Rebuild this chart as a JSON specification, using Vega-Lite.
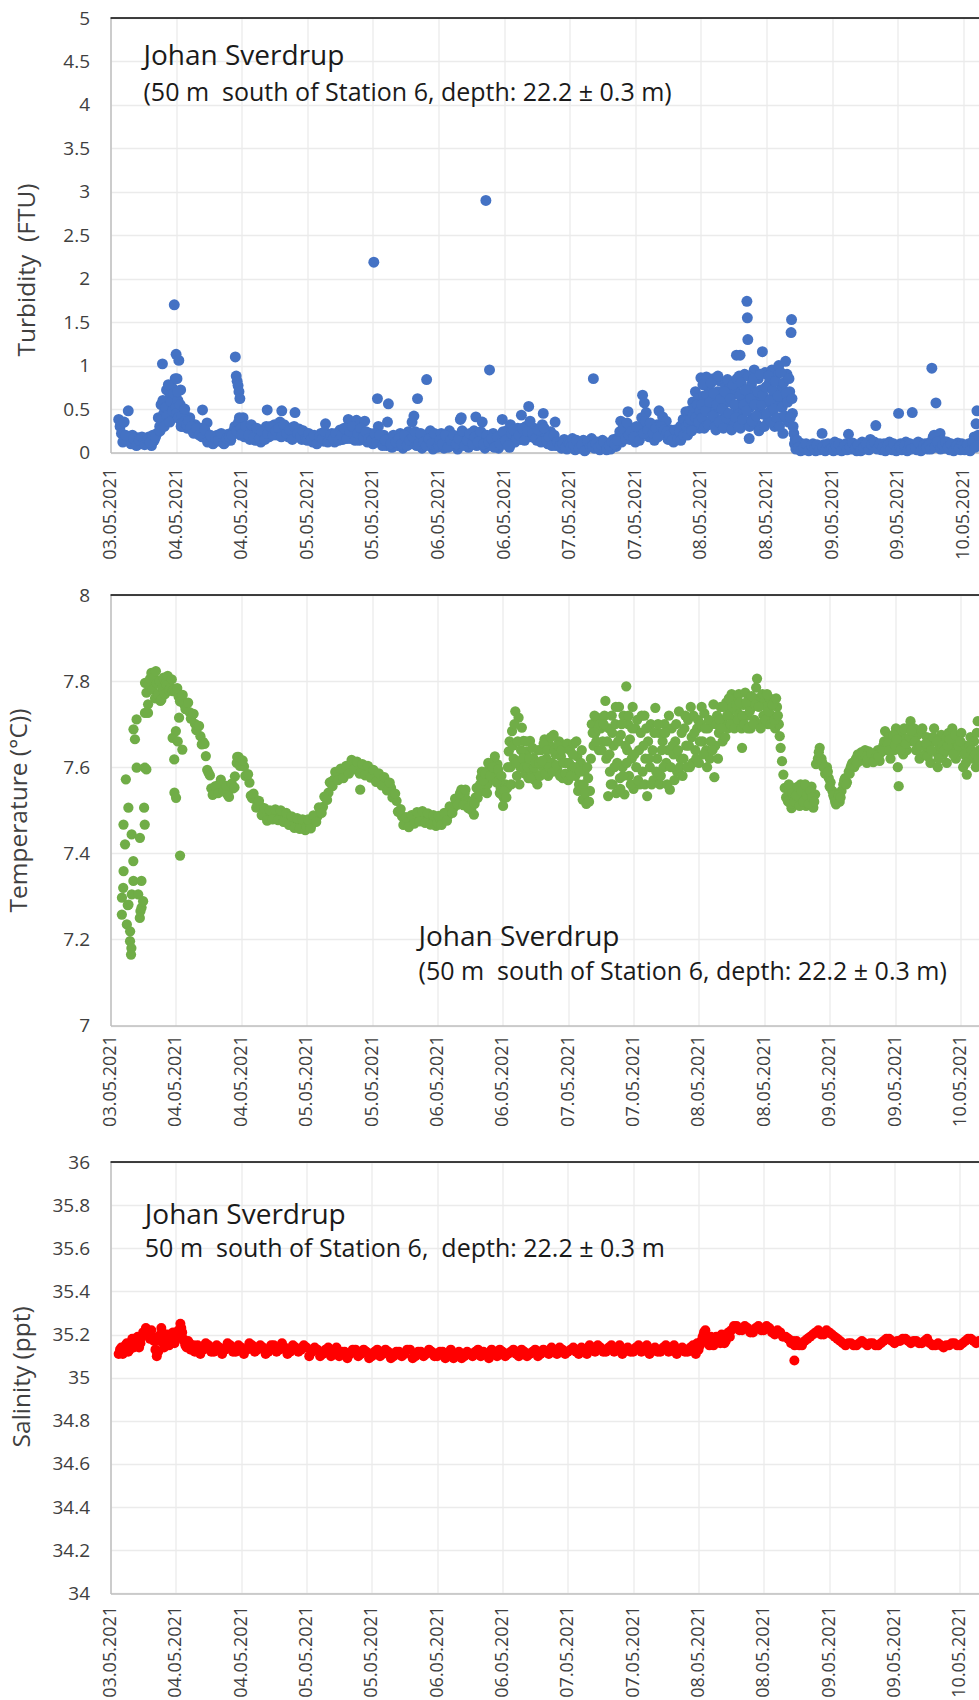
{
"$schema":"https://vega.github.io/schema/vega-lite/v6.json",
"background":"white",
"padding":{"left":6.5,"top":9,"right":0,"bottom":0},
"columns":1,
"align":"none",
"spacing":26,
"config":{
"font":"Open Sans",
"view":{"stroke":null},
"axis":{"labelFont":"Open Sans","labelColor":"#404040","labelFontSize":19,"titleFont":"Open Sans","titleColor":"#404040","titleFontSize":24.5,"titleFontWeight":"normal","domainColor":"#bfbfbf","domainWidth":1.5,"ticks":false,"tickSize":0,"gridColor":"#ebebeb","gridWidth":1.3},
"axisX":{"labelAngle":270,"labelFontSize":18,"labelOverlap":false,"labelFlush":false},
"axisY":{"labelPadding":21}
},
"concat":[
{"width":869,"height":434.5,
"layer":[
{"data":{"name":"turb"},"mark":{"type":"circle","size":120,"opacity":1,"color":"#4472C4"},
"encoding":{
"x":{"field":"t","type":"temporal","scale":{"domain":["2021-05-03T12:00","2021-05-10T02:58"],"nice":false},"axis":{"title":null,"format":"%d.%m.%Y","tickCount":14,"labelPadding":15}},
"y":{"field":"v","type":"quantitative","scale":{"domain":[0,5],"nice":false,"zero":false},"axis":{"title":"Turbidity\u00a0 (FTU)","values":[0,0.5,1,1.5,2,2.5,3,3.5,4,4.5,5],"format":"~g","titleX":-71.5,"titleY":251.5,"titleAngle":270,"titleAlign":"center","titleBaseline":"bottom"}}}},
{"data":{"values":[{"k":1}]},"mark":{"type":"rule","color":"#000000","strokeWidth":1.5},"encoding":{"y":{"datum":5}}},
{"data":{"values":[{"k":1}]},"mark":{"type":"text","align":"left","baseline":"alphabetic","fontSize":28,"color":"#1a1a1a"},"encoding":{"x":{"datum":{"year":2021,"month":5,"date":3,"hours":18,"minutes":2},"type":"temporal"},"y":{"datum":4.457},"text":{"value":"Johan Sverdrup"}}},
{"data":{"values":[{"k":1}]},"mark":{"type":"text","align":"left","baseline":"alphabetic","fontSize":25,"color":"#1a1a1a"},"encoding":{"x":{"datum":{"year":2021,"month":5,"date":3,"hours":18,"minutes":2},"type":"temporal"},"y":{"datum":4.044},"text":{"value":"(50 m\u00a0 south of Station 6, depth: 22.2 ± 0.3 m)"}}}
]},
{"width":869,"height":430.6,
"layer":[
{"data":{"name":"temp"},"mark":{"type":"circle","size":105,"opacity":1,"color":"#70AD47"},
"encoding":{
"x":{"field":"t","type":"temporal","scale":{"domain":["2021-05-03T12:00","2021-05-10T03:30"],"nice":false},"axis":{"title":null,"format":"%d.%m.%Y","tickCount":14,"labelPadding":9}},
"y":{"field":"v","type":"quantitative","scale":{"domain":[7,8],"nice":false,"zero":false},"axis":{"title":"Temperature (°C))","values":[7,7.2,7.4,7.6,7.8,8],"format":"~g","titleX":-79,"titleY":215,"titleAngle":270,"titleAlign":"center","titleBaseline":"bottom"}}}},
{"data":{"values":[{"k":1}]},"mark":{"type":"rule","color":"#000000","strokeWidth":1.5},"encoding":{"y":{"datum":8}}},
{"data":{"values":[{"k":1}]},"mark":{"type":"text","align":"left","baseline":"alphabetic","fontSize":28,"color":"#1a1a1a"},"encoding":{"x":{"datum":{"year":2021,"month":5,"date":5,"hours":20,"minutes":32},"type":"temporal"},"y":{"datum":7.185},"text":{"value":"Johan Sverdrup"}}},
{"data":{"values":[{"k":1}]},"mark":{"type":"text","align":"left","baseline":"alphabetic","fontSize":25,"color":"#1a1a1a"},"encoding":{"x":{"datum":{"year":2021,"month":5,"date":5,"hours":20,"minutes":32},"type":"temporal"},"y":{"datum":7.106},"text":{"value":"(50 m\u00a0 south of Station 6, depth: 22.2 ± 0.3 m)"}}}
]},
{"width":869,"height":431.4,
"layer":[
{"data":{"name":"sal"},"mark":{"type":"circle","size":100,"opacity":1,"color":"#FF0000"},
"encoding":{
"x":{"field":"t","type":"temporal","scale":{"domain":["2021-05-03T12:00","2021-05-10T03:36"],"nice":false},"axis":{"title":null,"format":"%d.%m.%Y","tickCount":14,"labelPadding":12}},
"y":{"field":"v","type":"quantitative","scale":{"domain":[34,36],"nice":false,"zero":false},"axis":{"title":"Salinity (ppt)","values":[34,34.2,34.4,34.6,34.8,35,35.2,35.4,35.6,35.8,36],"format":"~g","titleX":-76.5,"titleY":214.3,"titleAngle":270,"titleAlign":"center","titleBaseline":"bottom"}}}},
{"data":{"values":[{"k":1}]},"mark":{"type":"rule","color":"#000000","strokeWidth":1.5},"encoding":{"y":{"datum":36}}},
{"data":{"values":[{"k":1}]},"mark":{"type":"text","align":"left","baseline":"alphabetic","fontSize":28,"color":"#1a1a1a"},"encoding":{"x":{"datum":{"year":2021,"month":5,"date":3,"hours":18,"minutes":18},"type":"temporal"},"y":{"datum":35.714},"text":{"value":"Johan Sverdrup"}}},
{"data":{"values":[{"k":1}]},"mark":{"type":"text","align":"left","baseline":"alphabetic","fontSize":25,"color":"#1a1a1a"},"encoding":{"x":{"datum":{"year":2021,"month":5,"date":3,"hours":18,"minutes":18},"type":"temporal"},"y":{"datum":35.559},"text":{"value":"50 m\u00a0 south of Station 6,\u00a0 depth: 22.2 ± 0.3 m"}}}
]}
],
"datasets":{
"turb":[
{"t":"2021-05-03T13:30","v":0.38},{"t":"2021-05-03T13:45","v":0.30},{"t":"2021-05-03T14:00","v":0.22},{"t":"2021-05-03T14:30","v":0.35},{"t":"2021-05-03T15:00","v":0.17},{"t":"2021-05-03T15:15","v":0.48},{"t":"2021-05-03T15:30","v":0.14},{"t":"2021-05-03T16:00","v":0.20},{"t":"2021-05-03T16:30","v":0.12},{"t":"2021-05-03T17:00","v":0.17},{"t":"2021-05-03T17:30","v":0.10},{"t":"2021-05-03T18:00","v":0.15},{"t":"2021-05-03T18:30","v":0.12},{"t":"2021-05-03T19:00","v":0.18},{"t":"2021-05-03T19:30","v":0.08},{"t":"2021-05-03T20:00","v":0.14},{"t":"2021-05-03T20:30","v":0.22},{"t":"2021-05-03T20:45","v":0.40},{"t":"2021-05-03T21:00","v":0.30},{"t":"2021-05-03T21:15","v":0.55},{"t":"2021-05-03T21:30","v":1.02},{"t":"2021-05-03T21:45","v":0.45},{"t":"2021-05-03T22:00","v":0.35},{"t":"2021-05-03T22:15","v":0.72},{"t":"2021-05-03T22:30","v":0.50},{"t":"2021-05-03T22:45","v":0.62},{"t":"2021-05-03T23:00","v":0.40},{"t":"2021-05-03T23:15","v":0.75},{"t":"2021-05-03T23:30","v":0.55},{"t":"2021-05-03T23:40","v":1.70},{"t":"2021-05-03T23:45","v":0.45},{"t":"2021-05-03T23:50","v":0.85},
{"t":"2021-05-03T14:15","v":0.12},{"t":"2021-05-03T14:45","v":0.20},{"t":"2021-05-03T15:45","v":0.10},{"t":"2021-05-03T16:15","v":0.16},{"t":"2021-05-03T16:45","v":0.08},{"t":"2021-05-03T17:15","v":0.14},{"t":"2021-05-03T17:45","v":0.18},{"t":"2021-05-03T18:15","v":0.09},{"t":"2021-05-03T18:45","v":0.15},{"t":"2021-05-03T19:15","v":0.12},{"t":"2021-05-03T19:45","v":0.20},{"t":"2021-05-03T20:15","v":0.18},{"t":"2021-05-03T21:05","v":0.25},{"t":"2021-05-03T21:20","v":0.38},{"t":"2021-05-03T21:35","v":0.60},{"t":"2021-05-03T21:50","v":0.30},{"t":"2021-05-03T22:05","v":0.52},{"t":"2021-05-03T22:20","v":0.42},{"t":"2021-05-03T22:35","v":0.78},{"t":"2021-05-03T22:50","v":0.35},{"t":"2021-05-03T23:05","v":0.58},{"t":"2021-05-03T23:20","v":0.48},{"t":"2021-05-03T23:35","v":0.68},{"t":"2021-05-03T23:55","v":0.52},
{"t":"2021-05-04T00:00","v":1.13},{"t":"2021-05-04T00:10","v":0.85},{"t":"2021-05-04T00:20","v":0.60},{"t":"2021-05-04T00:30","v":1.06},{"t":"2021-05-04T00:40","v":0.38},{"t":"2021-05-04T00:50","v":0.72},{"t":"2021-05-04T01:00","v":0.50},{"t":"2021-05-04T01:15","v":0.30},{"t":"2021-05-04T01:30","v":0.45},{"t":"2021-05-04T01:45","v":0.38},{"t":"2021-05-04T02:00","v":0.28},{"t":"2021-05-04T02:30","v":0.40},{"t":"2021-05-04T03:00","v":0.25},{"t":"2021-05-04T03:30","v":0.32},{"t":"2021-05-04T04:00","v":0.22},{"t":"2021-05-04T04:30","v":0.28},{"t":"2021-05-04T04:50","v":0.49},{"t":"2021-05-04T05:00","v":0.18},{"t":"2021-05-04T05:30","v":0.22},{"t":"2021-05-04T05:40","v":0.34},{"t":"2021-05-04T06:00","v":0.15},{"t":"2021-05-04T06:30","v":0.18},{"t":"2021-05-04T07:00","v":0.12},{"t":"2021-05-04T07:30","v":0.20},{"t":"2021-05-04T08:00","v":0.13},{"t":"2021-05-04T08:30","v":0.17},{"t":"2021-05-04T09:00","v":0.12},{"t":"2021-05-04T09:30","v":0.21},{"t":"2021-05-04T10:00","v":0.14},{"t":"2021-05-04T10:30","v":0.25},{"t":"2021-05-04T10:50","v":1.10},{"t":"2021-05-04T11:00","v":0.88},{"t":"2021-05-04T11:10","v":0.82},{"t":"2021-05-04T11:15","v":0.30},{"t":"2021-05-04T11:20","v":0.77},{"t":"2021-05-04T11:30","v":0.70},{"t":"2021-05-04T11:40","v":0.62},{"t":"2021-05-04T11:45","v":0.20},{"t":"2021-05-04T12:00","v":0.35},{"t":"2021-05-04T12:15","v":0.40},{"t":"2021-05-04T12:30","v":0.18},{"t":"2021-05-04T13:00","v":0.28},{"t":"2021-05-04T13:30","v":0.15},{"t":"2021-05-04T14:00","v":0.25},{"t":"2021-05-04T14:30","v":0.14},{"t":"2021-05-04T15:00","v":0.22},{"t":"2021-05-04T15:30","v":0.12},{"t":"2021-05-04T16:00","v":0.20},{"t":"2021-05-04T16:30","v":0.30},{"t":"2021-05-04T16:40","v":0.49},{"t":"2021-05-04T17:00","v":0.18},{"t":"2021-05-04T17:30","v":0.27},{"t":"2021-05-04T18:00","v":0.32},{"t":"2021-05-04T18:30","v":0.20},{"t":"2021-05-04T19:00","v":0.35},{"t":"2021-05-04T19:20","v":0.48},{"t":"2021-05-04T19:30","v":0.25},{"t":"2021-05-04T20:00","v":0.30},{"t":"2021-05-04T20:30","v":0.18},{"t":"2021-05-04T21:00","v":0.28},{"t":"2021-05-04T21:30","v":0.22},{"t":"2021-05-04T21:45","v":0.46},{"t":"2021-05-04T22:00","v":0.18},{"t":"2021-05-04T22:30","v":0.27},{"t":"2021-05-04T23:00","v":0.15},{"t":"2021-05-04T23:30","v":0.22},
{"t":"2021-05-04T00:05","v":0.45},{"t":"2021-05-04T00:15","v":0.70},{"t":"2021-05-04T00:25","v":0.40},{"t":"2021-05-04T00:45","v":0.55},{"t":"2021-05-04T00:55","v":0.30},{"t":"2021-05-04T01:05","v":0.42},{"t":"2021-05-04T01:25","v":0.35},{"t":"2021-05-04T01:35","v":0.50},{"t":"2021-05-04T01:55","v":0.32},{"t":"2021-05-04T02:15","v":0.36},{"t":"2021-05-04T02:45","v":0.30},{"t":"2021-05-04T03:15","v":0.22},{"t":"2021-05-04T03:45","v":0.28},{"t":"2021-05-04T04:15","v":0.20},{"t":"2021-05-04T04:45","v":0.18},{"t":"2021-05-04T05:15","v":0.26},{"t":"2021-05-04T05:45","v":0.12},{"t":"2021-05-04T06:15","v":0.20},{"t":"2021-05-04T06:45","v":0.10},{"t":"2021-05-04T07:15","v":0.16},{"t":"2021-05-04T07:45","v":0.14},{"t":"2021-05-04T08:15","v":0.22},{"t":"2021-05-04T08:45","v":0.10},{"t":"2021-05-04T09:15","v":0.16},{"t":"2021-05-04T09:45","v":0.18},{"t":"2021-05-04T10:15","v":0.20},{"t":"2021-05-04T10:45","v":0.30},{"t":"2021-05-04T11:05","v":0.25},{"t":"2021-05-04T11:25","v":0.35},{"t":"2021-05-04T11:35","v":0.40},{"t":"2021-05-04T11:50","v":0.28},{"t":"2021-05-04T12:05","v":0.22},{"t":"2021-05-04T12:45","v":0.30},{"t":"2021-05-04T13:15","v":0.20},{"t":"2021-05-04T13:45","v":0.32},{"t":"2021-05-04T14:15","v":0.18},{"t":"2021-05-04T14:45","v":0.28},{"t":"2021-05-04T15:15","v":0.16},{"t":"2021-05-04T15:45","v":0.24},{"t":"2021-05-04T16:15","v":0.15},{"t":"2021-05-04T16:45","v":0.22},{"t":"2021-05-04T17:15","v":0.30},{"t":"2021-05-04T17:45","v":0.20},{"t":"2021-05-04T18:15","v":0.25},{"t":"2021-05-04T18:45","v":0.28},{"t":"2021-05-04T19:15","v":0.18},{"t":"2021-05-04T19:45","v":0.32},{"t":"2021-05-04T20:15","v":0.22},{"t":"2021-05-04T20:45","v":0.26},{"t":"2021-05-04T21:15","v":0.15},{"t":"2021-05-04T21:35","v":0.30},{"t":"2021-05-04T22:15","v":0.22},{"t":"2021-05-04T22:45","v":0.18},{"t":"2021-05-04T23:15","v":0.25},{"t":"2021-05-04T23:45","v":0.16},
{"t":"2021-05-05T00:00","v":0.14},{"t":"2021-05-05T00:30","v":0.20},{"t":"2021-05-05T01:00","v":0.12},{"t":"2021-05-05T01:30","v":0.18},{"t":"2021-05-05T02:00","v":0.15},{"t":"2021-05-05T02:30","v":0.22},{"t":"2021-05-05T03:00","v":0.13},{"t":"2021-05-05T03:20","v":0.33},{"t":"2021-05-05T03:30","v":0.18},{"t":"2021-05-05T04:00","v":0.15},{"t":"2021-05-05T04:30","v":0.22},{"t":"2021-05-05T05:00","v":0.12},{"t":"2021-05-05T05:30","v":0.20},{"t":"2021-05-05T06:00","v":0.26},{"t":"2021-05-05T06:30","v":0.15},{"t":"2021-05-05T07:00","v":0.23},{"t":"2021-05-05T07:30","v":0.38},{"t":"2021-05-05T08:00","v":0.16},{"t":"2021-05-05T08:30","v":0.22},{"t":"2021-05-05T09:00","v":0.37},{"t":"2021-05-05T09:30","v":0.14},{"t":"2021-05-05T10:00","v":0.25},{"t":"2021-05-05T10:30","v":0.36},{"t":"2021-05-05T11:00","v":0.12},{"t":"2021-05-05T11:30","v":0.22},{"t":"2021-05-05T12:00","v":0.10},{"t":"2021-05-05T12:10","v":2.19},{"t":"2021-05-05T12:30","v":0.17},{"t":"2021-05-05T12:50","v":0.62},{"t":"2021-05-05T13:00","v":0.30},{"t":"2021-05-05T13:30","v":0.12},{"t":"2021-05-05T14:00","v":0.20},{"t":"2021-05-05T14:30","v":0.08},{"t":"2021-05-05T14:40","v":0.35},{"t":"2021-05-05T14:50","v":0.56},{"t":"2021-05-05T15:00","v":0.15},{"t":"2021-05-05T15:30","v":0.06},{"t":"2021-05-05T16:00","v":0.18},{"t":"2021-05-05T16:30","v":0.08},{"t":"2021-05-05T17:00","v":0.22},{"t":"2021-05-05T17:30","v":0.05},{"t":"2021-05-05T18:00","v":0.15},{"t":"2021-05-05T18:30","v":0.24},{"t":"2021-05-05T19:00","v":0.10},{"t":"2021-05-05T19:10","v":0.35},{"t":"2021-05-05T19:30","v":0.42},{"t":"2021-05-05T20:00","v":0.08},{"t":"2021-05-05T20:10","v":0.62},{"t":"2021-05-05T20:30","v":0.15},{"t":"2021-05-05T21:00","v":0.05},{"t":"2021-05-05T21:30","v":0.20},{"t":"2021-05-05T21:50","v":0.84},{"t":"2021-05-05T22:00","v":0.12},{"t":"2021-05-05T22:30","v":0.25},{"t":"2021-05-05T23:00","v":0.04},{"t":"2021-05-05T23:30","v":0.18},
{"t":"2021-05-05T00:15","v":0.22},{"t":"2021-05-05T00:45","v":0.16},{"t":"2021-05-05T01:15","v":0.20},{"t":"2021-05-05T01:45","v":0.10},{"t":"2021-05-05T02:15","v":0.18},{"t":"2021-05-05T02:45","v":0.16},{"t":"2021-05-05T03:10","v":0.24},{"t":"2021-05-05T03:45","v":0.12},{"t":"2021-05-05T04:15","v":0.20},{"t":"2021-05-05T04:45","v":0.16},{"t":"2021-05-05T05:15","v":0.22},{"t":"2021-05-05T05:45","v":0.14},{"t":"2021-05-05T06:15","v":0.20},{"t":"2021-05-05T06:45","v":0.28},{"t":"2021-05-05T07:15","v":0.16},{"t":"2021-05-05T07:45","v":0.24},{"t":"2021-05-05T08:15","v":0.30},{"t":"2021-05-05T08:45","v":0.14},{"t":"2021-05-05T09:15","v":0.22},{"t":"2021-05-05T09:45","v":0.28},{"t":"2021-05-05T10:15","v":0.18},{"t":"2021-05-05T10:45","v":0.24},{"t":"2021-05-05T11:15","v":0.16},{"t":"2021-05-05T11:45","v":0.14},{"t":"2021-05-05T12:20","v":0.22},{"t":"2021-05-05T12:40","v":0.12},{"t":"2021-05-05T13:15","v":0.20},{"t":"2021-05-05T13:45","v":0.08},{"t":"2021-05-05T14:15","v":0.14},{"t":"2021-05-05T15:15","v":0.10},{"t":"2021-05-05T15:45","v":0.20},{"t":"2021-05-05T16:15","v":0.12},{"t":"2021-05-05T16:45","v":0.16},{"t":"2021-05-05T17:15","v":0.10},{"t":"2021-05-05T17:45","v":0.20},{"t":"2021-05-05T18:15","v":0.08},{"t":"2021-05-05T18:45","v":0.14},{"t":"2021-05-05T19:20","v":0.18},{"t":"2021-05-05T19:45","v":0.24},{"t":"2021-05-05T20:20","v":0.10},{"t":"2021-05-05T20:45","v":0.22},{"t":"2021-05-05T21:15","v":0.12},{"t":"2021-05-05T21:45","v":0.08},{"t":"2021-05-05T22:15","v":0.16},{"t":"2021-05-05T22:45","v":0.10},{"t":"2021-05-05T23:15","v":0.22},{"t":"2021-05-05T23:45","v":0.06},
{"t":"2021-05-06T00:00","v":0.08},{"t":"2021-05-06T00:30","v":0.22},{"t":"2021-05-06T01:00","v":0.05},{"t":"2021-05-06T01:30","v":0.15},{"t":"2021-05-06T02:00","v":0.25},{"t":"2021-05-06T02:30","v":0.08},{"t":"2021-05-06T03:00","v":0.18},{"t":"2021-05-06T03:30","v":0.04},{"t":"2021-05-06T04:00","v":0.38},{"t":"2021-05-06T04:10","v":0.40},{"t":"2021-05-06T04:30","v":0.12},{"t":"2021-05-06T05:00","v":0.20},{"t":"2021-05-06T05:30","v":0.06},{"t":"2021-05-06T06:00","v":0.15},{"t":"2021-05-06T06:30","v":0.25},{"t":"2021-05-06T06:50","v":0.41},{"t":"2021-05-06T07:00","v":0.08},{"t":"2021-05-06T07:30","v":0.18},{"t":"2021-05-06T08:00","v":0.35},{"t":"2021-05-06T08:30","v":0.05},{"t":"2021-05-06T08:40","v":2.90},{"t":"2021-05-06T09:00","v":0.15},{"t":"2021-05-06T09:20","v":0.95},{"t":"2021-05-06T09:30","v":0.08},{"t":"2021-05-06T10:00","v":0.22},{"t":"2021-05-06T10:30","v":0.12},{"t":"2021-05-06T11:00","v":0.05},{"t":"2021-05-06T11:30","v":0.20},{"t":"2021-05-06T11:40","v":0.38},{"t":"2021-05-06T12:00","v":0.10},{"t":"2021-05-06T12:30","v":0.25},{"t":"2021-05-06T13:00","v":0.06},{"t":"2021-05-06T13:10","v":0.32},{"t":"2021-05-06T13:30","v":0.18},{"t":"2021-05-06T14:00","v":0.12},{"t":"2021-05-06T14:30","v":0.28},{"t":"2021-05-06T15:00","v":0.15},{"t":"2021-05-06T15:10","v":0.43},{"t":"2021-05-06T15:30","v":0.22},{"t":"2021-05-06T16:00","v":0.30},{"t":"2021-05-06T16:30","v":0.53},{"t":"2021-05-06T17:00","v":0.18},{"t":"2021-05-06T17:30","v":0.28},{"t":"2021-05-06T18:00","v":0.14},{"t":"2021-05-06T18:30","v":0.22},{"t":"2021-05-06T19:00","v":0.32},{"t":"2021-05-06T19:10","v":0.45},{"t":"2021-05-06T19:30","v":0.18},{"t":"2021-05-06T20:00","v":0.10},{"t":"2021-05-06T20:30","v":0.24},{"t":"2021-05-06T21:00","v":0.15},{"t":"2021-05-06T21:20","v":0.35},{"t":"2021-05-06T21:30","v":0.08},{"t":"2021-05-06T22:00","v":0.12},{"t":"2021-05-06T22:30","v":0.05},{"t":"2021-05-06T23:00","v":0.15},{"t":"2021-05-06T23:30","v":0.04},
{"t":"2021-05-06T00:15","v":0.14},{"t":"2021-05-06T00:45","v":0.10},{"t":"2021-05-06T01:15","v":0.20},{"t":"2021-05-06T01:45","v":0.06},{"t":"2021-05-06T02:15","v":0.14},{"t":"2021-05-06T02:45","v":0.20},{"t":"2021-05-06T03:15","v":0.10},{"t":"2021-05-06T03:45","v":0.16},{"t":"2021-05-06T04:20","v":0.25},{"t":"2021-05-06T04:45","v":0.08},{"t":"2021-05-06T05:15","v":0.14},{"t":"2021-05-06T05:45","v":0.22},{"t":"2021-05-06T06:15","v":0.10},{"t":"2021-05-06T06:40","v":0.18},{"t":"2021-05-06T07:15","v":0.12},{"t":"2021-05-06T07:45","v":0.24},{"t":"2021-05-06T08:15","v":0.10},{"t":"2021-05-06T08:50","v":0.20},{"t":"2021-05-06T09:10","v":0.12},{"t":"2021-05-06T09:45","v":0.16},{"t":"2021-05-06T10:15","v":0.06},{"t":"2021-05-06T10:45","v":0.18},{"t":"2021-05-06T11:15","v":0.10},{"t":"2021-05-06T11:50","v":0.24},{"t":"2021-05-06T12:15","v":0.14},{"t":"2021-05-06T12:45","v":0.08},{"t":"2021-05-06T13:20","v":0.22},{"t":"2021-05-06T13:45","v":0.26},{"t":"2021-05-06T14:15","v":0.16},{"t":"2021-05-06T14:45","v":0.20},{"t":"2021-05-06T15:20","v":0.28},{"t":"2021-05-06T15:45","v":0.14},{"t":"2021-05-06T16:15","v":0.24},{"t":"2021-05-06T16:45","v":0.36},{"t":"2021-05-06T17:15","v":0.22},{"t":"2021-05-06T17:45","v":0.16},{"t":"2021-05-06T18:15","v":0.26},{"t":"2021-05-06T18:45","v":0.12},{"t":"2021-05-06T19:20","v":0.28},{"t":"2021-05-06T19:45","v":0.14},{"t":"2021-05-06T20:15","v":0.18},{"t":"2021-05-06T20:45","v":0.08},{"t":"2021-05-06T21:10","v":0.20},{"t":"2021-05-06T21:45","v":0.12},{"t":"2021-05-06T22:15","v":0.08},{"t":"2021-05-06T22:45","v":0.10},{"t":"2021-05-06T23:15","v":0.06},{"t":"2021-05-06T23:45","v":0.12},
{"t":"2021-05-07T00:00","v":0.10},{"t":"2021-05-07T00:30","v":0.16},{"t":"2021-05-07T01:00","v":0.03},{"t":"2021-05-07T01:30","v":0.12},{"t":"2021-05-07T02:00","v":0.06},{"t":"2021-05-07T02:30","v":0.14},{"t":"2021-05-07T03:00","v":0.04},{"t":"2021-05-07T03:30","v":0.10},{"t":"2021-05-07T04:00","v":0.16},{"t":"2021-05-07T04:20","v":0.85},{"t":"2021-05-07T04:30","v":0.05},{"t":"2021-05-07T05:00","v":0.12},{"t":"2021-05-07T05:30","v":0.03},{"t":"2021-05-07T06:00","v":0.14},{"t":"2021-05-07T06:30","v":0.06},{"t":"2021-05-07T07:00","v":0.11},{"t":"2021-05-07T07:30","v":0.04},{"t":"2021-05-07T08:00","v":0.15},{"t":"2021-05-07T08:30","v":0.07},{"t":"2021-05-07T09:00","v":0.18},{"t":"2021-05-07T09:20","v":0.36},{"t":"2021-05-07T09:30","v":0.12},{"t":"2021-05-07T10:00","v":0.22},{"t":"2021-05-07T10:40","v":0.47},{"t":"2021-05-07T11:00","v":0.15},{"t":"2021-05-07T11:30","v":0.28},{"t":"2021-05-07T12:00","v":0.12},{"t":"2021-05-07T12:30","v":0.20},{"t":"2021-05-07T13:00","v":0.30},{"t":"2021-05-07T13:20","v":0.66},{"t":"2021-05-07T13:40","v":0.57},{"t":"2021-05-07T14:00","v":0.46},{"t":"2021-05-07T14:10","v":0.30},{"t":"2021-05-07T14:30","v":0.18},{"t":"2021-05-07T15:00","v":0.26},{"t":"2021-05-07T15:30","v":0.14},{"t":"2021-05-07T16:00","v":0.32},{"t":"2021-05-07T16:20","v":0.48},{"t":"2021-05-07T16:30","v":0.24},{"t":"2021-05-07T17:00","v":0.41},{"t":"2021-05-07T17:30","v":0.20},{"t":"2021-05-07T17:40","v":0.36},{"t":"2021-05-07T18:00","v":0.15},{"t":"2021-05-07T18:30","v":0.26},{"t":"2021-05-07T19:00","v":0.12},{"t":"2021-05-07T19:30","v":0.22},{"t":"2021-05-07T20:00","v":0.18},{"t":"2021-05-07T20:15","v":0.30},{"t":"2021-05-07T20:30","v":0.22},{"t":"2021-05-07T20:45","v":0.38},{"t":"2021-05-07T21:00","v":0.28},{"t":"2021-05-07T21:15","v":0.47},{"t":"2021-05-07T21:30","v":0.25},{"t":"2021-05-07T21:45","v":0.40},{"t":"2021-05-07T22:00","v":0.48},{"t":"2021-05-07T22:15","v":0.30},{"t":"2021-05-07T22:30","v":0.58},{"t":"2021-05-07T22:45","v":0.35},{"t":"2021-05-07T23:00","v":0.70},{"t":"2021-05-07T23:15","v":0.45},{"t":"2021-05-07T23:30","v":0.62},{"t":"2021-05-07T23:45","v":0.28},
{"t":"2021-05-07T00:15","v":0.06},{"t":"2021-05-07T00:45","v":0.09},{"t":"2021-05-07T01:15","v":0.14},{"t":"2021-05-07T01:45","v":0.05},{"t":"2021-05-07T02:15","v":0.09},{"t":"2021-05-07T02:45","v":0.02},{"t":"2021-05-07T03:15","v":0.13},{"t":"2021-05-07T03:45","v":0.07},{"t":"2021-05-07T04:10","v":0.08},{"t":"2021-05-07T04:45","v":0.10},{"t":"2021-05-07T05:15","v":0.06},{"t":"2021-05-07T05:45","v":0.09},{"t":"2021-05-07T06:15","v":0.12},{"t":"2021-05-07T06:45","v":0.03},{"t":"2021-05-07T07:15","v":0.08},{"t":"2021-05-07T07:45","v":0.12},{"t":"2021-05-07T08:15","v":0.10},{"t":"2021-05-07T08:45","v":0.14},{"t":"2021-05-07T09:10","v":0.24},{"t":"2021-05-07T09:45","v":0.28},{"t":"2021-05-07T10:15","v":0.16},{"t":"2021-05-07T10:30","v":0.34},{"t":"2021-05-07T10:50","v":0.20},{"t":"2021-05-07T11:15","v":0.24},{"t":"2021-05-07T11:45","v":0.18},{"t":"2021-05-07T12:15","v":0.30},{"t":"2021-05-07T12:45","v":0.14},{"t":"2021-05-07T13:10","v":0.40},{"t":"2021-05-07T13:30","v":0.22},{"t":"2021-05-07T13:50","v":0.36},{"t":"2021-05-07T14:20","v":0.26},{"t":"2021-05-07T14:45","v":0.34},{"t":"2021-05-07T15:15","v":0.22},{"t":"2021-05-07T15:45","v":0.28},{"t":"2021-05-07T16:10","v":0.18},{"t":"2021-05-07T16:45","v":0.30},{"t":"2021-05-07T17:15","v":0.26},{"t":"2021-05-07T17:50","v":0.24},{"t":"2021-05-07T18:15","v":0.20},{"t":"2021-05-07T18:45","v":0.14},{"t":"2021-05-07T19:15","v":0.26},{"t":"2021-05-07T19:45","v":0.16},{"t":"2021-05-07T20:05","v":0.24},{"t":"2021-05-07T20:20","v":0.14},{"t":"2021-05-07T20:35","v":0.32},{"t":"2021-05-07T20:50","v":0.20},{"t":"2021-05-07T21:05","v":0.36},{"t":"2021-05-07T21:20","v":0.30},{"t":"2021-05-07T21:35","v":0.20},{"t":"2021-05-07T21:50","v":0.34},{"t":"2021-05-07T22:05","v":0.38},{"t":"2021-05-07T22:20","v":0.25},{"t":"2021-05-07T22:35","v":0.44},{"t":"2021-05-07T22:50","v":0.52},{"t":"2021-05-07T23:05","v":0.40},{"t":"2021-05-07T23:20","v":0.55},{"t":"2021-05-07T23:35","v":0.35},{"t":"2021-05-07T23:50","v":0.48},
{"t":"2021-05-08T00:00","v":0.86},{"t":"2021-05-08T00:15","v":0.40},{"t":"2021-05-08T00:30","v":0.65},{"t":"2021-05-08T00:45","v":0.30},{"t":"2021-05-08T01:00","v":0.87},{"t":"2021-05-08T01:15","v":0.52},{"t":"2021-05-08T01:30","v":0.72},{"t":"2021-05-08T01:45","v":0.36},{"t":"2021-05-08T02:00","v":0.60},{"t":"2021-05-08T02:15","v":0.85},{"t":"2021-05-08T02:30","v":0.45},{"t":"2021-05-08T02:45","v":0.26},{"t":"2021-05-08T03:00","v":0.70},{"t":"2021-05-08T03:15","v":0.55},{"t":"2021-05-08T03:30","v":0.82},{"t":"2021-05-08T03:45","v":0.38},{"t":"2021-05-08T04:00","v":0.62},{"t":"2021-05-08T04:15","v":0.48},{"t":"2021-05-08T04:30","v":0.75},{"t":"2021-05-08T04:45","v":0.30},{"t":"2021-05-08T05:00","v":0.58},{"t":"2021-05-08T05:15","v":0.80},{"t":"2021-05-08T05:30","v":0.42},{"t":"2021-05-08T05:45","v":0.66},{"t":"2021-05-08T06:00","v":0.35},{"t":"2021-05-08T06:15","v":0.72},{"t":"2021-05-08T06:30","v":1.12},{"t":"2021-05-08T06:45","v":0.50},{"t":"2021-05-08T07:00","v":0.88},{"t":"2021-05-08T07:10","v":1.12},{"t":"2021-05-08T07:15","v":0.28},{"t":"2021-05-08T07:30","v":0.60},{"t":"2021-05-08T07:45","v":0.45},{"t":"2021-05-08T08:00","v":0.90},{"t":"2021-05-08T08:15","v":0.35},{"t":"2021-05-08T08:25","v":1.74},{"t":"2021-05-08T08:30","v":1.55},{"t":"2021-05-08T08:35","v":1.30},{"t":"2021-05-08T08:45","v":0.68},{"t":"2021-05-08T08:50","v":0.16},{"t":"2021-05-08T09:00","v":0.52},{"t":"2021-05-08T09:15","v":0.78},{"t":"2021-05-08T09:30","v":0.40},{"t":"2021-05-08T09:45","v":0.95},{"t":"2021-05-08T10:00","v":0.62},{"t":"2021-05-08T10:15","v":0.32},{"t":"2021-05-08T10:30","v":0.85},{"t":"2021-05-08T10:45","v":0.50},{"t":"2021-05-08T11:00","v":0.72},{"t":"2021-05-08T11:15","v":1.16},{"t":"2021-05-08T11:30","v":0.44},{"t":"2021-05-08T11:45","v":0.92},{"t":"2021-05-08T12:00","v":0.58},{"t":"2021-05-08T12:15","v":0.35},{"t":"2021-05-08T12:30","v":0.80},{"t":"2021-05-08T12:45","v":0.48},{"t":"2021-05-08T13:00","v":0.95},{"t":"2021-05-08T13:15","v":0.65},{"t":"2021-05-08T13:30","v":0.30},{"t":"2021-05-08T13:45","v":0.88},{"t":"2021-05-08T14:00","v":0.55},{"t":"2021-05-08T14:15","v":1.00},{"t":"2021-05-08T14:30","v":0.40},{"t":"2021-05-08T14:45","v":0.75},{"t":"2021-05-08T15:00","v":0.22},{"t":"2021-05-08T15:15","v":0.62},{"t":"2021-05-08T15:30","v":1.05},{"t":"2021-05-08T15:45","v":0.90},{"t":"2021-05-08T16:00","v":0.35},{"t":"2021-05-08T16:15","v":0.70},{"t":"2021-05-08T16:30","v":1.38},{"t":"2021-05-08T16:35","v":1.53},{"t":"2021-05-08T16:45","v":0.45},{"t":"2021-05-08T17:00","v":0.22},{"t":"2021-05-08T17:15","v":0.15},{"t":"2021-05-08T17:30","v":0.08},{"t":"2021-05-08T17:45","v":0.12},{"t":"2021-05-08T18:00","v":0.05},{"t":"2021-05-08T18:30","v":0.10},{"t":"2021-05-08T19:00","v":0.03},{"t":"2021-05-08T19:30","v":0.08},{"t":"2021-05-08T20:00","v":0.05},{"t":"2021-05-08T20:30","v":0.10},{"t":"2021-05-08T21:00","v":0.02},{"t":"2021-05-08T21:30","v":0.07},{"t":"2021-05-08T22:00","v":0.04},{"t":"2021-05-08T22:10","v":0.22},{"t":"2021-05-08T22:30","v":0.09},{"t":"2021-05-08T23:00","v":0.03},{"t":"2021-05-08T23:30","v":0.08},
{"t":"2021-05-08T00:07","v":0.55},{"t":"2021-05-08T00:22","v":0.78},{"t":"2021-05-08T00:37","v":0.28},{"t":"2021-05-08T00:52","v":0.48},{"t":"2021-05-08T01:07","v":0.66},{"t":"2021-05-08T01:22","v":0.32},{"t":"2021-05-08T01:37","v":0.58},{"t":"2021-05-08T01:52","v":0.80},{"t":"2021-05-08T02:07","v":0.42},{"t":"2021-05-08T02:22","v":0.68},{"t":"2021-05-08T02:37","v":0.30},{"t":"2021-05-08T02:52","v":0.55},{"t":"2021-05-08T03:07","v":0.88},{"t":"2021-05-08T03:22","v":0.35},{"t":"2021-05-08T03:37","v":0.62},{"t":"2021-05-08T03:52","v":0.50},{"t":"2021-05-08T04:07","v":0.28},{"t":"2021-05-08T04:22","v":0.70},{"t":"2021-05-08T04:37","v":0.40},{"t":"2021-05-08T04:52","v":0.84},{"t":"2021-05-08T05:07","v":0.45},{"t":"2021-05-08T05:22","v":0.62},{"t":"2021-05-08T05:37","v":0.26},{"t":"2021-05-08T05:52","v":0.78},{"t":"2021-05-08T06:07","v":0.55},{"t":"2021-05-08T06:22","v":0.40},{"t":"2021-05-08T06:37","v":0.85},{"t":"2021-05-08T06:52","v":0.30},{"t":"2021-05-08T07:07","v":0.66},{"t":"2021-05-08T07:22","v":0.80},{"t":"2021-05-08T07:37","v":0.38},{"t":"2021-05-08T07:52","v":0.55},{"t":"2021-05-08T08:07","v":0.72},{"t":"2021-05-08T08:22","v":0.48},{"t":"2021-05-08T08:40","v":0.88},{"t":"2021-05-08T08:55","v":0.30},{"t":"2021-05-08T09:07","v":0.62},{"t":"2021-05-08T09:22","v":0.36},{"t":"2021-05-08T09:37","v":0.85},{"t":"2021-05-08T09:52","v":0.55},{"t":"2021-05-08T10:07","v":0.42},{"t":"2021-05-08T10:22","v":0.70},{"t":"2021-05-08T10:37","v":0.25},{"t":"2021-05-08T10:52","v":0.90},{"t":"2021-05-08T11:07","v":0.55},{"t":"2021-05-08T11:22","v":0.66},{"t":"2021-05-08T11:37","v":0.30},{"t":"2021-05-08T11:52","v":0.75},{"t":"2021-05-08T12:07","v":0.45},{"t":"2021-05-08T12:22","v":0.88},{"t":"2021-05-08T12:37","v":0.60},{"t":"2021-05-08T12:52","v":0.35},{"t":"2021-05-08T13:07","v":0.72},{"t":"2021-05-08T13:22","v":0.50},{"t":"2021-05-08T13:37","v":0.82},{"t":"2021-05-08T13:52","v":0.40},{"t":"2021-05-08T14:07","v":0.65},{"t":"2021-05-08T14:22","v":0.30},{"t":"2021-05-08T14:37","v":0.92},{"t":"2021-05-08T14:52","v":0.52},{"t":"2021-05-08T15:07","v":0.80},{"t":"2021-05-08T15:22","v":0.42},{"t":"2021-05-08T15:37","v":0.68},{"t":"2021-05-08T15:52","v":0.58},{"t":"2021-05-08T16:07","v":0.85},{"t":"2021-05-08T16:22","v":0.40},{"t":"2021-05-08T16:40","v":0.62},{"t":"2021-05-08T16:52","v":0.30},{"t":"2021-05-08T17:07","v":0.10},{"t":"2021-05-08T17:22","v":0.04},{"t":"2021-05-08T17:37","v":0.14},{"t":"2021-05-08T17:52","v":0.06},{"t":"2021-05-08T18:15","v":0.02},{"t":"2021-05-08T18:45","v":0.06},{"t":"2021-05-08T19:15","v":0.10},{"t":"2021-05-08T19:45","v":0.02},{"t":"2021-05-08T20:15","v":0.08},{"t":"2021-05-08T20:45","v":0.04},{"t":"2021-05-08T21:15","v":0.09},{"t":"2021-05-08T21:45","v":0.03},{"t":"2021-05-08T22:20","v":0.06},{"t":"2021-05-08T22:45","v":0.02},{"t":"2021-05-08T23:15","v":0.10},{"t":"2021-05-08T23:45","v":0.04},
{"t":"2021-05-09T00:00","v":0.05},{"t":"2021-05-09T00:30","v":0.12},{"t":"2021-05-09T01:00","v":0.03},{"t":"2021-05-09T01:30","v":0.09},{"t":"2021-05-09T02:00","v":0.05},{"t":"2021-05-09T02:30","v":0.10},{"t":"2021-05-09T03:00","v":0.21},{"t":"2021-05-09T03:30","v":0.04},{"t":"2021-05-09T04:00","v":0.09},{"t":"2021-05-09T04:30","v":0.02},{"t":"2021-05-09T05:00","v":0.07},{"t":"2021-05-09T05:30","v":0.12},{"t":"2021-05-09T06:00","v":0.04},{"t":"2021-05-09T06:30","v":0.09},{"t":"2021-05-09T07:00","v":0.15},{"t":"2021-05-09T07:30","v":0.06},{"t":"2021-05-09T08:00","v":0.31},{"t":"2021-05-09T08:30","v":0.08},{"t":"2021-05-09T09:00","v":0.03},{"t":"2021-05-09T09:30","v":0.10},{"t":"2021-05-09T10:00","v":0.05},{"t":"2021-05-09T10:30","v":0.12},{"t":"2021-05-09T11:00","v":0.03},{"t":"2021-05-09T11:30","v":0.08},{"t":"2021-05-09T12:00","v":0.05},{"t":"2021-05-09T12:10","v":0.45},{"t":"2021-05-09T12:30","v":0.10},{"t":"2021-05-09T13:00","v":0.04},{"t":"2021-05-09T13:30","v":0.12},{"t":"2021-05-09T14:00","v":0.06},{"t":"2021-05-09T14:40","v":0.46},{"t":"2021-05-09T15:00","v":0.09},{"t":"2021-05-09T15:30","v":0.03},{"t":"2021-05-09T16:00","v":0.11},{"t":"2021-05-09T16:30","v":0.05},{"t":"2021-05-09T17:00","v":0.10},{"t":"2021-05-09T17:30","v":0.04},{"t":"2021-05-09T18:00","v":0.12},{"t":"2021-05-09T18:15","v":0.97},{"t":"2021-05-09T18:30","v":0.18},{"t":"2021-05-09T18:40","v":0.20},{"t":"2021-05-09T19:00","v":0.57},{"t":"2021-05-09T19:30","v":0.08},{"t":"2021-05-09T19:45","v":0.22},{"t":"2021-05-09T20:00","v":0.14},{"t":"2021-05-09T20:30","v":0.05},{"t":"2021-05-09T21:00","v":0.12},{"t":"2021-05-09T21:30","v":0.03},{"t":"2021-05-09T22:00","v":0.09},{"t":"2021-05-09T22:30","v":0.05},{"t":"2021-05-09T23:00","v":0.11},{"t":"2021-05-09T23:30","v":0.03},
{"t":"2021-05-09T00:15","v":0.02},{"t":"2021-05-09T00:45","v":0.07},{"t":"2021-05-09T01:15","v":0.10},{"t":"2021-05-09T01:45","v":0.02},{"t":"2021-05-09T02:15","v":0.08},{"t":"2021-05-09T02:45","v":0.03},{"t":"2021-05-09T03:15","v":0.06},{"t":"2021-05-09T03:45","v":0.11},{"t":"2021-05-09T04:15","v":0.05},{"t":"2021-05-09T04:45","v":0.09},{"t":"2021-05-09T05:15","v":0.02},{"t":"2021-05-09T05:45","v":0.06},{"t":"2021-05-09T06:15","v":0.10},{"t":"2021-05-09T06:45","v":0.03},{"t":"2021-05-09T07:15","v":0.09},{"t":"2021-05-09T07:45","v":0.12},{"t":"2021-05-09T08:15","v":0.04},{"t":"2021-05-09T08:45","v":0.10},{"t":"2021-05-09T09:15","v":0.06},{"t":"2021-05-09T09:45","v":0.02},{"t":"2021-05-09T10:15","v":0.09},{"t":"2021-05-09T10:45","v":0.04},{"t":"2021-05-09T11:15","v":0.10},{"t":"2021-05-09T11:45","v":0.02},{"t":"2021-05-09T12:20","v":0.07},{"t":"2021-05-09T12:45","v":0.03},{"t":"2021-05-09T13:15","v":0.08},{"t":"2021-05-09T13:45","v":0.02},{"t":"2021-05-09T14:15","v":0.10},{"t":"2021-05-09T14:30","v":0.04},{"t":"2021-05-09T15:15","v":0.06},{"t":"2021-05-09T15:45","v":0.12},{"t":"2021-05-09T16:15","v":0.02},{"t":"2021-05-09T16:45","v":0.08},{"t":"2021-05-09T17:15","v":0.06},{"t":"2021-05-09T17:45","v":0.09},{"t":"2021-05-09T18:05","v":0.04},{"t":"2021-05-09T18:50","v":0.06},{"t":"2021-05-09T19:15","v":0.12},{"t":"2021-05-09T19:50","v":0.04},{"t":"2021-05-09T20:15","v":0.09},{"t":"2021-05-09T20:45","v":0.12},{"t":"2021-05-09T21:15","v":0.06},{"t":"2021-05-09T21:45","v":0.10},{"t":"2021-05-09T22:15","v":0.02},{"t":"2021-05-09T22:45","v":0.08},{"t":"2021-05-09T23:15","v":0.05},{"t":"2021-05-09T23:45","v":0.10},
{"t":"2021-05-10T00:00","v":0.08},{"t":"2021-05-10T00:30","v":0.04},{"t":"2021-05-10T01:00","v":0.10},{"t":"2021-05-10T01:30","v":0.05},{"t":"2021-05-10T02:00","v":0.18},{"t":"2021-05-10T02:20","v":0.33},{"t":"2021-05-10T02:30","v":0.48},{"t":"2021-05-10T03:00","v":0.10},{"t":"2021-05-10T00:15","v":0.03},{"t":"2021-05-10T00:45","v":0.09},{"t":"2021-05-10T01:15","v":0.02},{"t":"2021-05-10T01:45","v":0.12},{"t":"2021-05-10T02:10","v":0.06},{"t":"2021-05-10T02:45","v":0.20}
],
"temp":[
{"t":"2021-05-03T14:05","v":7.258},{"t":"2021-05-03T14:06","v":7.297},{"t":"2021-05-03T14:20","v":7.320},{"t":"2021-05-03T14:24","v":7.359},{"t":"2021-05-03T14:23","v":7.467},{"t":"2021-05-03T14:40","v":7.421},{"t":"2021-05-03T14:49","v":7.572},{"t":"2021-05-03T15:00","v":7.235},{"t":"2021-05-03T15:10","v":7.280},{"t":"2021-05-03T15:17","v":7.506},{"t":"2021-05-03T15:18","v":7.281},{"t":"2021-05-03T15:35","v":7.196},{"t":"2021-05-03T15:36","v":7.219},{"t":"2021-05-03T15:46","v":7.165},{"t":"2021-05-03T15:50","v":7.180},{"t":"2021-05-03T15:53","v":7.444},{"t":"2021-05-03T15:54","v":7.305},{"t":"2021-05-03T16:11","v":7.382},{"t":"2021-05-03T16:12","v":7.336},{"t":"2021-05-03T16:13","v":7.688},{"t":"2021-05-03T16:29","v":7.665},{"t":"2021-05-03T16:47","v":7.711},{"t":"2021-05-03T16:48","v":7.599},{"t":"2021-05-03T17:05","v":7.305},{"t":"2021-05-03T17:23","v":7.250},{"t":"2021-05-03T17:24","v":7.436},{"t":"2021-05-03T17:30","v":7.266},{"t":"2021-05-03T17:41","v":7.336},{"t":"2021-05-03T17:42","v":7.274},{"t":"2021-05-03T17:59","v":7.289},{"t":"2021-05-03T18:10","v":7.506},{"t":"2021-05-03T18:17","v":7.467},{"t":"2021-05-03T18:18","v":7.599},{"t":"2021-05-03T18:35","v":7.595},{"t":"2021-05-03T18:19","v":7.726},{"t":"2021-05-03T18:53","v":7.726},{"t":"2021-05-03T18:54","v":7.746},{"t":"2021-05-03T18:36","v":7.773},{"t":"2021-05-03T18:20","v":7.796},
{"t":"2021-05-03T19:00","v":7.792},{"t":"2021-05-03T19:15","v":7.805},{"t":"2021-05-03T19:30","v":7.819},{"t":"2021-05-03T19:45","v":7.780},{"t":"2021-05-03T20:00","v":7.808},{"t":"2021-05-03T20:10","v":7.760},{"t":"2021-05-03T20:20","v":7.823},{"t":"2021-05-03T20:30","v":7.795},{"t":"2021-05-03T20:45","v":7.769},{"t":"2021-05-03T21:00","v":7.800},{"t":"2021-05-03T21:10","v":7.754},{"t":"2021-05-03T21:20","v":7.757},{"t":"2021-05-03T21:30","v":7.785},{"t":"2021-05-03T21:45","v":7.808},{"t":"2021-05-03T22:00","v":7.770},{"t":"2021-05-03T22:10","v":7.796},{"t":"2021-05-03T22:20","v":7.790},{"t":"2021-05-03T22:30","v":7.812},{"t":"2021-05-03T22:45","v":7.778},{"t":"2021-05-03T23:00","v":7.785},{"t":"2021-05-03T23:15","v":7.804},{"t":"2021-05-03T23:25","v":7.777},{"t":"2021-05-03T23:40","v":7.781},
{"t":"2021-05-03T23:24","v":7.668},{"t":"2021-05-04T00:00","v":7.684},{"t":"2021-05-03T23:42","v":7.618},{"t":"2021-05-04T01:11","v":7.641},{"t":"2021-05-03T23:44","v":7.541},{"t":"2021-05-04T00:02","v":7.529},{"t":"2021-05-04T00:46","v":7.395},{"t":"2021-05-04T00:20","v":7.660},{"t":"2021-05-04T00:35","v":7.715},
{"t":"2021-05-04T00:01","v":7.778},{"t":"2021-05-04T00:30","v":7.764},{"t":"2021-05-04T01:00","v":7.766},{"t":"2021-05-04T01:30","v":7.746},{"t":"2021-05-04T02:00","v":7.749},{"t":"2021-05-04T02:30","v":7.728},{"t":"2021-05-04T03:00","v":7.723},{"t":"2021-05-04T03:30","v":7.701},{"t":"2021-05-04T04:00","v":7.696},{"t":"2021-05-04T04:30","v":7.672},{"t":"2021-05-04T05:00","v":7.659},{"t":"2021-05-04T05:30","v":7.626},{"t":"2021-05-04T06:00","v":7.587},{"t":"2021-05-04T06:30","v":7.551},{"t":"2021-05-04T07:00","v":7.545},{"t":"2021-05-04T07:30","v":7.544},{"t":"2021-05-04T08:00","v":7.560},{"t":"2021-05-04T08:30","v":7.558},{"t":"2021-05-04T09:00","v":7.554},{"t":"2021-05-04T09:30","v":7.536},{"t":"2021-05-04T10:00","v":7.550},{"t":"2021-05-04T10:30","v":7.551},{"t":"2021-05-04T10:50","v":7.579},{"t":"2021-05-04T11:10","v":7.610},{"t":"2021-05-04T11:30","v":7.624},{"t":"2021-05-04T12:00","v":7.606},{"t":"2021-05-04T12:30","v":7.602},{"t":"2021-05-04T13:00","v":7.581},{"t":"2021-05-04T13:30","v":7.564},{"t":"2021-05-04T14:00","v":7.528},{"t":"2021-05-04T14:30","v":7.526},{"t":"2021-05-04T15:00","v":7.510},{"t":"2021-05-04T15:30","v":7.509},{"t":"2021-05-04T16:00","v":7.493},{"t":"2021-05-04T16:30","v":7.494},{"t":"2021-05-04T17:00","v":7.482},{"t":"2021-05-04T17:30","v":7.494},{"t":"2021-05-04T18:00","v":7.488},{"t":"2021-05-04T18:30","v":7.492},{"t":"2021-05-04T19:00","v":7.486},{"t":"2021-05-04T19:30","v":7.490},{"t":"2021-05-04T20:00","v":7.480},{"t":"2021-05-04T20:30","v":7.484},{"t":"2021-05-04T21:00","v":7.473},{"t":"2021-05-04T21:30","v":7.476},{"t":"2021-05-04T22:00","v":7.467},{"t":"2021-05-04T22:30","v":7.474},{"t":"2021-05-04T23:00","v":7.464},{"t":"2021-05-04T23:30","v":7.471},
{"t":"2021-05-04T00:15","v":7.784},{"t":"2021-05-04T00:45","v":7.753},{"t":"2021-05-04T01:15","v":7.768},{"t":"2021-05-04T01:45","v":7.735},{"t":"2021-05-04T02:15","v":7.750},{"t":"2021-05-04T02:45","v":7.713},{"t":"2021-05-04T03:15","v":7.724},{"t":"2021-05-04T03:45","v":7.686},{"t":"2021-05-04T04:15","v":7.696},{"t":"2021-05-04T04:45","v":7.653},{"t":"2021-05-04T05:15","v":7.654},{"t":"2021-05-04T05:45","v":7.594},{"t":"2021-05-04T06:15","v":7.581},{"t":"2021-05-04T06:45","v":7.536},{"t":"2021-05-04T07:15","v":7.556},{"t":"2021-05-04T07:45","v":7.540},{"t":"2021-05-04T08:15","v":7.571},{"t":"2021-05-04T08:45","v":7.544},{"t":"2021-05-04T09:15","v":7.557},{"t":"2021-05-04T09:45","v":7.531},{"t":"2021-05-04T10:15","v":7.562},{"t":"2021-05-04T10:45","v":7.553},{"t":"2021-05-04T11:15","v":7.624},{"t":"2021-05-04T11:45","v":7.603},{"t":"2021-05-04T12:15","v":7.616},{"t":"2021-05-04T12:45","v":7.580},{"t":"2021-05-04T13:15","v":7.584},{"t":"2021-05-04T13:45","v":7.534},{"t":"2021-05-04T14:15","v":7.539},{"t":"2021-05-04T14:45","v":7.506},{"t":"2021-05-04T15:15","v":7.522},{"t":"2021-05-04T15:45","v":7.489},{"t":"2021-05-04T16:15","v":7.505},{"t":"2021-05-04T16:45","v":7.476},{"t":"2021-05-04T17:15","v":7.500},{"t":"2021-05-04T17:45","v":7.479},{"t":"2021-05-04T18:15","v":7.502},{"t":"2021-05-04T18:45","v":7.477},{"t":"2021-05-04T19:15","v":7.500},{"t":"2021-05-04T19:45","v":7.473},{"t":"2021-05-04T20:15","v":7.494},{"t":"2021-05-04T20:45","v":7.466},{"t":"2021-05-04T21:15","v":7.486},{"t":"2021-05-04T21:45","v":7.459},{"t":"2021-05-04T22:15","v":7.482},{"t":"2021-05-04T22:45","v":7.457},{"t":"2021-05-04T23:15","v":7.479},{"t":"2021-05-04T23:45","v":7.454},
{"t":"2021-05-05T00:00","v":7.462},{"t":"2021-05-05T00:30","v":7.472},{"t":"2021-05-05T01:00","v":7.468},{"t":"2021-05-05T01:30","v":7.484},{"t":"2021-05-05T02:00","v":7.486},{"t":"2021-05-05T02:30","v":7.504},{"t":"2021-05-05T03:00","v":7.508},{"t":"2021-05-05T03:30","v":7.532},{"t":"2021-05-05T04:00","v":7.541},{"t":"2021-05-05T04:30","v":7.566},{"t":"2021-05-05T05:00","v":7.571},{"t":"2021-05-05T05:30","v":7.584},{"t":"2021-05-05T06:00","v":7.580},{"t":"2021-05-05T06:30","v":7.590},{"t":"2021-05-05T07:00","v":7.585},{"t":"2021-05-05T07:30","v":7.598},{"t":"2021-05-05T08:00","v":7.596},{"t":"2021-05-05T08:30","v":7.614},{"t":"2021-05-05T09:00","v":7.600},{"t":"2021-05-05T09:30","v":7.602},{"t":"2021-05-05T09:50","v":7.548},{"t":"2021-05-05T10:00","v":7.592},{"t":"2021-05-05T10:30","v":7.598},{"t":"2021-05-05T11:00","v":7.588},{"t":"2021-05-05T11:30","v":7.594},{"t":"2021-05-05T12:00","v":7.581},{"t":"2021-05-05T12:30","v":7.584},{"t":"2021-05-05T13:00","v":7.572},{"t":"2021-05-05T13:30","v":7.576},{"t":"2021-05-05T14:00","v":7.564},{"t":"2021-05-05T14:30","v":7.566},{"t":"2021-05-05T15:00","v":7.551},{"t":"2021-05-05T15:30","v":7.552},{"t":"2021-05-05T16:00","v":7.532},{"t":"2021-05-05T16:30","v":7.522},{"t":"2021-05-05T17:00","v":7.496},{"t":"2021-05-05T17:30","v":7.486},{"t":"2021-05-05T18:00","v":7.469},{"t":"2021-05-05T18:30","v":7.476},{"t":"2021-05-05T19:00","v":7.471},{"t":"2021-05-05T19:30","v":7.484},{"t":"2021-05-05T20:00","v":7.479},{"t":"2021-05-05T20:30","v":7.490},{"t":"2021-05-05T21:00","v":7.483},{"t":"2021-05-05T21:30","v":7.488},{"t":"2021-05-05T22:00","v":7.478},{"t":"2021-05-05T22:30","v":7.484},{"t":"2021-05-05T23:00","v":7.474},{"t":"2021-05-05T23:30","v":7.480},
{"t":"2021-05-05T00:15","v":7.479},{"t":"2021-05-05T00:45","v":7.458},{"t":"2021-05-05T01:15","v":7.488},{"t":"2021-05-05T01:45","v":7.473},{"t":"2021-05-05T02:15","v":7.507},{"t":"2021-05-05T02:45","v":7.494},{"t":"2021-05-05T03:15","v":7.532},{"t":"2021-05-05T03:45","v":7.524},{"t":"2021-05-05T04:15","v":7.565},{"t":"2021-05-05T04:45","v":7.556},{"t":"2021-05-05T05:15","v":7.589},{"t":"2021-05-05T05:45","v":7.570},{"t":"2021-05-05T06:15","v":7.597},{"t":"2021-05-05T06:45","v":7.575},{"t":"2021-05-05T07:15","v":7.603},{"t":"2021-05-05T07:45","v":7.585},{"t":"2021-05-05T08:15","v":7.617},{"t":"2021-05-05T08:45","v":7.595},{"t":"2021-05-05T09:15","v":7.613},{"t":"2021-05-05T09:45","v":7.585},{"t":"2021-05-05T10:15","v":7.607},{"t":"2021-05-05T10:45","v":7.581},{"t":"2021-05-05T11:15","v":7.603},{"t":"2021-05-05T11:45","v":7.576},{"t":"2021-05-05T12:15","v":7.594},{"t":"2021-05-05T12:45","v":7.566},{"t":"2021-05-05T13:15","v":7.586},{"t":"2021-05-05T13:45","v":7.558},{"t":"2021-05-05T14:15","v":7.577},{"t":"2021-05-05T14:45","v":7.546},{"t":"2021-05-05T15:15","v":7.564},{"t":"2021-05-05T15:45","v":7.530},{"t":"2021-05-05T16:15","v":7.539},{"t":"2021-05-05T16:45","v":7.497},{"t":"2021-05-05T17:15","v":7.503},{"t":"2021-05-05T17:45","v":7.466},{"t":"2021-05-05T18:15","v":7.484},{"t":"2021-05-05T18:45","v":7.461},{"t":"2021-05-05T19:15","v":7.489},{"t":"2021-05-05T19:45","v":7.469},{"t":"2021-05-05T20:15","v":7.496},{"t":"2021-05-05T20:45","v":7.474},{"t":"2021-05-05T21:15","v":7.498},{"t":"2021-05-05T21:45","v":7.471},{"t":"2021-05-05T22:15","v":7.493},{"t":"2021-05-05T22:45","v":7.467},{"t":"2021-05-05T23:15","v":7.489},{"t":"2021-05-05T23:45","v":7.464},
{"t":"2021-05-06T00:00","v":7.471},{"t":"2021-05-06T00:30","v":7.480},{"t":"2021-05-06T01:00","v":7.476},{"t":"2021-05-06T01:30","v":7.488},{"t":"2021-05-06T02:00","v":7.488},{"t":"2021-05-06T02:30","v":7.506},{"t":"2021-05-06T03:00","v":7.506},{"t":"2021-05-06T03:30","v":7.524},{"t":"2021-05-06T04:00","v":7.526},{"t":"2021-05-06T04:24","v":7.548},{"t":"2021-05-06T04:30","v":7.521},{"t":"2021-05-06T05:00","v":7.539},{"t":"2021-05-06T05:18","v":7.525},{"t":"2021-05-06T05:30","v":7.516},{"t":"2021-05-06T06:00","v":7.512},{"t":"2021-05-06T06:12","v":7.501},{"t":"2021-05-06T06:42","v":7.490},{"t":"2021-05-06T07:00","v":7.530},{"t":"2021-05-06T07:24","v":7.529},{"t":"2021-05-06T08:00","v":7.576},{"t":"2021-05-06T08:18","v":7.545},{"t":"2021-05-06T08:36","v":7.560},{"t":"2021-05-06T09:00","v":7.583},{"t":"2021-05-06T09:12","v":7.560},{"t":"2021-05-06T09:30","v":7.597},{"t":"2021-05-06T09:48","v":7.599},{"t":"2021-05-06T10:00","v":7.575},{"t":"2021-05-06T10:24","v":7.614},{"t":"2021-05-06T10:42","v":7.590},{"t":"2021-05-06T11:00","v":7.607},{"t":"2021-05-06T11:18","v":7.570},{"t":"2021-05-06T11:36","v":7.552},{"t":"2021-05-06T11:54","v":7.535},{"t":"2021-05-06T12:12","v":7.529},{"t":"2021-05-06T12:30","v":7.560},{"t":"2021-05-06T12:48","v":7.552},{"t":"2021-05-06T13:06","v":7.637},{"t":"2021-05-06T13:24","v":7.600},{"t":"2021-05-06T13:42","v":7.684},{"t":"2021-05-06T14:00","v":7.620},{"t":"2021-05-06T14:18","v":7.730},{"t":"2021-05-06T14:36","v":7.580},{"t":"2021-05-06T14:54","v":7.715},{"t":"2021-05-06T15:12","v":7.600},{"t":"2021-05-06T15:30","v":7.692},{"t":"2021-05-06T15:48","v":7.661},{"t":"2021-05-06T16:06","v":7.585},{"t":"2021-05-06T16:24","v":7.637},{"t":"2021-05-06T16:42","v":7.575},{"t":"2021-05-06T17:00","v":7.661},{"t":"2021-05-06T17:18","v":7.590},{"t":"2021-05-06T17:36","v":7.622},{"t":"2021-05-06T17:54","v":7.570},{"t":"2021-05-06T18:12","v":7.583},{"t":"2021-05-06T18:30","v":7.640},{"t":"2021-05-06T19:00","v":7.640},{"t":"2021-05-06T19:20","v":7.600},{"t":"2021-05-06T19:40","v":7.665},{"t":"2021-05-06T20:00","v":7.620},{"t":"2021-05-06T20:20","v":7.580},{"t":"2021-05-06T20:40","v":7.650},{"t":"2021-05-06T21:00","v":7.610},{"t":"2021-05-06T21:20","v":7.675},{"t":"2021-05-06T21:40","v":7.630},{"t":"2021-05-06T22:00","v":7.595},{"t":"2021-05-06T22:20","v":7.660},{"t":"2021-05-06T22:40","v":7.625},{"t":"2021-05-06T23:00","v":7.575},{"t":"2021-05-06T23:20","v":7.645},{"t":"2021-05-06T23:40","v":7.610},
{"t":"2021-05-06T00:15","v":7.487},{"t":"2021-05-06T00:45","v":7.466},{"t":"2021-05-06T01:15","v":7.494},{"t":"2021-05-06T01:45","v":7.476},{"t":"2021-05-06T02:15","v":7.509},{"t":"2021-05-06T02:45","v":7.494},{"t":"2021-05-06T03:15","v":7.527},{"t":"2021-05-06T03:45","v":7.513},{"t":"2021-05-06T04:09","v":7.540},{"t":"2021-05-06T04:45","v":7.512},{"t":"2021-05-06T05:09","v":7.548},{"t":"2021-05-06T05:40","v":7.505},{"t":"2021-05-06T06:24","v":7.520},{"t":"2021-05-06T06:50","v":7.515},{"t":"2021-05-06T07:12","v":7.552},{"t":"2021-05-06T07:40","v":7.545},{"t":"2021-05-06T07:50","v":7.560},{"t":"2021-05-06T08:10","v":7.590},{"t":"2021-05-06T08:27","v":7.570},{"t":"2021-05-06T08:48","v":7.585},{"t":"2021-05-06T09:06","v":7.540},{"t":"2021-05-06T09:20","v":7.610},{"t":"2021-05-06T09:40","v":7.580},{"t":"2021-05-06T10:10","v":7.600},{"t":"2021-05-06T10:33","v":7.625},{"t":"2021-05-06T10:51","v":7.565},{"t":"2021-05-06T11:09","v":7.595},{"t":"2021-05-06T11:27","v":7.540},{"t":"2021-05-06T11:45","v":7.580},{"t":"2021-05-06T12:03","v":7.510},{"t":"2021-05-06T12:21","v":7.545},{"t":"2021-05-06T12:39","v":7.530},{"t":"2021-05-06T12:57","v":7.600},{"t":"2021-05-06T13:15","v":7.660},{"t":"2021-05-06T13:33","v":7.560},{"t":"2021-05-06T13:51","v":7.650},{"t":"2021-05-06T14:09","v":7.700},{"t":"2021-05-06T14:27","v":7.610},{"t":"2021-05-06T14:45","v":7.660},{"t":"2021-05-06T15:03","v":7.560},{"t":"2021-05-06T15:21","v":7.640},{"t":"2021-05-06T15:39","v":7.620},{"t":"2021-05-06T15:57","v":7.600},{"t":"2021-05-06T16:15","v":7.660},{"t":"2021-05-06T16:33","v":7.600},{"t":"2021-05-06T16:51","v":7.620},{"t":"2021-05-06T17:09","v":7.575},{"t":"2021-05-06T17:27","v":7.645},{"t":"2021-05-06T17:45","v":7.600},{"t":"2021-05-06T18:03","v":7.610},{"t":"2021-05-06T18:21","v":7.560},{"t":"2021-05-06T18:40","v":7.610},{"t":"2021-05-06T18:50","v":7.580},{"t":"2021-05-06T19:10","v":7.615},{"t":"2021-05-06T19:30","v":7.655},{"t":"2021-05-06T19:50","v":7.585},{"t":"2021-05-06T20:10","v":7.640},{"t":"2021-05-06T20:30","v":7.600},{"t":"2021-05-06T20:50","v":7.670},{"t":"2021-05-06T21:10","v":7.590},{"t":"2021-05-06T21:30","v":7.640},{"t":"2021-05-06T21:50","v":7.605},{"t":"2021-05-06T22:10","v":7.650},{"t":"2021-05-06T22:30","v":7.580},{"t":"2021-05-06T22:50","v":7.640},{"t":"2021-05-06T23:10","v":7.610},{"t":"2021-05-06T23:30","v":7.585},{"t":"2021-05-06T23:50","v":7.655},
{"t":"2021-05-07T00:00","v":7.570},{"t":"2021-05-07T00:20","v":7.640},{"t":"2021-05-07T00:40","v":7.600},{"t":"2021-05-07T01:00","v":7.655},{"t":"2021-05-07T01:20","v":7.580},{"t":"2021-05-07T01:40","v":7.625},{"t":"2021-05-07T02:00","v":7.560},{"t":"2021-05-07T02:20","v":7.610},{"t":"2021-05-07T02:40","v":7.525},{"t":"2021-05-07T03:00","v":7.590},{"t":"2021-05-07T03:20","v":7.515},{"t":"2021-05-07T03:40","v":7.575},{"t":"2021-05-07T04:00","v":7.545},{"t":"2021-05-07T04:20","v":7.700},{"t":"2021-05-07T04:40","v":7.650},{"t":"2021-05-07T05:00","v":7.680},{"t":"2021-05-07T05:20","v":7.715},{"t":"2021-05-07T05:40","v":7.640},{"t":"2021-05-07T06:00","v":7.690},{"t":"2021-05-07T06:20","v":7.660},{"t":"2021-05-07T06:40","v":7.720},{"t":"2021-05-07T06:50","v":7.754},{"t":"2021-05-07T07:00","v":7.620},{"t":"2021-05-07T07:20","v":7.533},{"t":"2021-05-07T07:30","v":7.690},{"t":"2021-05-07T07:40","v":7.590},{"t":"2021-05-07T08:00","v":7.720},{"t":"2021-05-07T08:10","v":7.560},{"t":"2021-05-07T08:20","v":7.650},{"t":"2021-05-07T08:40","v":7.700},{"t":"2021-05-07T08:50","v":7.540},{"t":"2021-05-07T09:00","v":7.610},{"t":"2021-05-07T09:20","v":7.740},{"t":"2021-05-07T09:30","v":7.575},{"t":"2021-05-07T09:40","v":7.675},{"t":"2021-05-07T10:00","v":7.600},{"t":"2021-05-07T10:10","v":7.720},{"t":"2021-05-07T10:20","v":7.537},{"t":"2021-05-07T10:40","v":7.788},{"t":"2021-05-07T10:50","v":7.640},{"t":"2021-05-07T11:00","v":7.700},{"t":"2021-05-07T11:10","v":7.580},{"t":"2021-05-07T11:20","v":7.665},{"t":"2021-05-07T11:40","v":7.620},{"t":"2021-05-07T11:50","v":7.740},{"t":"2021-05-07T12:00","v":7.550},{"t":"2021-05-07T12:20","v":7.690},{"t":"2021-05-07T12:30","v":7.600},{"t":"2021-05-07T12:40","v":7.710},{"t":"2021-05-07T13:00","v":7.640},{"t":"2021-05-07T13:10","v":7.560},{"t":"2021-05-07T13:20","v":7.680},{"t":"2021-05-07T13:40","v":7.590},{"t":"2021-05-07T14:00","v":7.720},{"t":"2021-05-07T14:10","v":7.620},{"t":"2021-05-07T14:30","v":7.533},{"t":"2021-05-07T14:40","v":7.660},{"t":"2021-05-07T15:00","v":7.600},{"t":"2021-05-07T15:10","v":7.700},{"t":"2021-05-07T15:30","v":7.640},{"t":"2021-05-07T15:40","v":7.570},{"t":"2021-05-07T16:00","v":7.738},{"t":"2021-05-07T16:20","v":7.620},{"t":"2021-05-07T16:40","v":7.680},{"t":"2021-05-07T17:00","v":7.580},{"t":"2021-05-07T17:20","v":7.660},{"t":"2021-05-07T17:40","v":7.700},{"t":"2021-05-07T18:00","v":7.610},{"t":"2021-05-07T18:20","v":7.640},{"t":"2021-05-07T18:40","v":7.548},{"t":"2021-05-07T19:00","v":7.690},{"t":"2021-05-07T19:20","v":7.630},{"t":"2021-05-07T19:40","v":7.660},{"t":"2021-05-07T20:00","v":7.590},{"t":"2021-05-07T20:20","v":7.730},{"t":"2021-05-07T20:40","v":7.620},{"t":"2021-05-07T21:00","v":7.580},{"t":"2021-05-07T21:20","v":7.690},{"t":"2021-05-07T21:40","v":7.650},{"t":"2021-05-07T22:00","v":7.710},{"t":"2021-05-07T22:20","v":7.600},{"t":"2021-05-07T22:40","v":7.670},{"t":"2021-05-07T23:00","v":7.720},{"t":"2021-05-07T23:20","v":7.640},{"t":"2021-05-07T23:40","v":7.690},
{"t":"2021-05-07T00:10","v":7.610},{"t":"2021-05-07T00:30","v":7.580},{"t":"2021-05-07T00:50","v":7.630},{"t":"2021-05-07T01:10","v":7.600},{"t":"2021-05-07T01:30","v":7.660},{"t":"2021-05-07T01:50","v":7.545},{"t":"2021-05-07T02:10","v":7.590},{"t":"2021-05-07T02:30","v":7.640},{"t":"2021-05-07T02:50","v":7.560},{"t":"2021-05-07T03:10","v":7.540},{"t":"2021-05-07T03:30","v":7.600},{"t":"2021-05-07T03:50","v":7.520},{"t":"2021-05-07T04:10","v":7.620},{"t":"2021-05-07T04:30","v":7.680},{"t":"2021-05-07T04:50","v":7.720},{"t":"2021-05-07T05:10","v":7.660},{"t":"2021-05-07T05:30","v":7.690},{"t":"2021-05-07T05:50","v":7.700},{"t":"2021-05-07T06:10","v":7.640},{"t":"2021-05-07T06:30","v":7.700},{"t":"2021-05-07T07:10","v":7.660},{"t":"2021-05-07T07:35","v":7.630},{"t":"2021-05-07T07:50","v":7.560},{"t":"2021-05-07T08:05","v":7.680},{"t":"2021-05-07T08:30","v":7.600},{"t":"2021-05-07T08:45","v":7.740},{"t":"2021-05-07T09:10","v":7.660},{"t":"2021-05-07T09:35","v":7.550},{"t":"2021-05-07T09:50","v":7.700},{"t":"2021-05-07T10:05","v":7.580},{"t":"2021-05-07T10:30","v":7.650},{"t":"2021-05-07T10:45","v":7.610},{"t":"2021-05-07T11:05","v":7.720},{"t":"2021-05-07T11:30","v":7.560},{"t":"2021-05-07T11:45","v":7.690},{"t":"2021-05-07T12:10","v":7.630},{"t":"2021-05-07T12:50","v":7.570},{"t":"2021-05-07T13:30","v":7.720},{"t":"2021-05-07T13:50","v":7.650},{"t":"2021-05-07T14:05","v":7.560},{"t":"2021-05-07T14:20","v":7.690},{"t":"2021-05-07T14:50","v":7.620},{"t":"2021-05-07T15:20","v":7.560},{"t":"2021-05-07T15:50","v":7.680},{"t":"2021-05-07T16:10","v":7.590},{"t":"2021-05-07T16:30","v":7.700},{"t":"2021-05-07T16:50","v":7.560},{"t":"2021-05-07T17:10","v":7.640},{"t":"2021-05-07T17:30","v":7.600},{"t":"2021-05-07T17:50","v":7.680},{"t":"2021-05-07T18:10","v":7.560},{"t":"2021-05-07T18:30","v":7.720},{"t":"2021-05-07T18:50","v":7.600},{"t":"2021-05-07T19:10","v":7.650},{"t":"2021-05-07T19:30","v":7.570},{"t":"2021-05-07T19:50","v":7.700},{"t":"2021-05-07T20:10","v":7.640},{"t":"2021-05-07T20:30","v":7.600},{"t":"2021-05-07T20:50","v":7.680},{"t":"2021-05-07T21:10","v":7.620},{"t":"2021-05-07T21:30","v":7.720},{"t":"2021-05-07T21:50","v":7.600},{"t":"2021-05-07T22:10","v":7.650},{"t":"2021-05-07T22:30","v":7.740},{"t":"2021-05-07T22:50","v":7.610},{"t":"2021-05-07T23:10","v":7.680},{"t":"2021-05-07T23:30","v":7.620},{"t":"2021-05-07T23:50","v":7.710},
{"t":"2021-05-08T00:00","v":7.610},{"t":"2021-05-08T00:20","v":7.700},{"t":"2021-05-08T00:40","v":7.660},{"t":"2021-05-08T01:00","v":7.725},{"t":"2021-05-08T01:20","v":7.640},{"t":"2021-05-08T01:40","v":7.690},{"t":"2021-05-08T02:00","v":7.620},{"t":"2021-05-08T02:20","v":7.700},{"t":"2021-05-08T02:40","v":7.746},{"t":"2021-05-08T02:50","v":7.577},{"t":"2021-05-08T03:00","v":7.650},{"t":"2021-05-08T03:20","v":7.720},{"t":"2021-05-08T03:40","v":7.680},{"t":"2021-05-08T04:00","v":7.740},{"t":"2021-05-08T04:20","v":7.660},{"t":"2021-05-08T04:40","v":7.700},{"t":"2021-05-08T05:00","v":7.750},{"t":"2021-05-08T05:20","v":7.690},{"t":"2021-05-08T05:40","v":7.730},{"t":"2021-05-08T06:00","v":7.770},{"t":"2021-05-08T06:20","v":7.710},{"t":"2021-05-08T06:40","v":7.760},{"t":"2021-05-08T07:00","v":7.730},{"t":"2021-05-08T07:20","v":7.770},{"t":"2021-05-08T07:40","v":7.700},{"t":"2021-05-08T07:55","v":7.645},{"t":"2021-05-08T08:10","v":7.745},{"t":"2021-05-08T08:30","v":7.773},{"t":"2021-05-08T08:50","v":7.720},{"t":"2021-05-08T09:10","v":7.760},{"t":"2021-05-08T09:30","v":7.690},{"t":"2021-05-08T09:50","v":7.740},{"t":"2021-05-08T10:10","v":7.710},{"t":"2021-05-08T10:30","v":7.785},{"t":"2021-05-08T10:40","v":7.806},{"t":"2021-05-08T10:50","v":7.760},{"t":"2021-05-08T11:10","v":7.700},{"t":"2021-05-08T11:30","v":7.750},{"t":"2021-05-08T11:50","v":7.720},{"t":"2021-05-08T12:00","v":7.760},{"t":"2021-05-08T12:20","v":7.740},{"t":"2021-05-08T12:40","v":7.700},{"t":"2021-05-08T13:00","v":7.760},{"t":"2021-05-08T13:20","v":7.720},{"t":"2021-05-08T13:40","v":7.750},{"t":"2021-05-08T14:00","v":7.690},{"t":"2021-05-08T14:20","v":7.740},{"t":"2021-05-08T14:40","v":7.700},{"t":"2021-05-08T14:50","v":7.672},{"t":"2021-05-08T15:00","v":7.645},{"t":"2021-05-08T15:15","v":7.614},{"t":"2021-05-08T15:30","v":7.583},{"t":"2021-05-08T15:45","v":7.552},{"t":"2021-05-08T16:00","v":7.530},{"t":"2021-05-08T16:20","v":7.521},{"t":"2021-05-08T16:40","v":7.545},{"t":"2021-05-08T17:00","v":7.505},{"t":"2021-05-08T17:20","v":7.530},{"t":"2021-05-08T17:40","v":7.552},{"t":"2021-05-08T18:00","v":7.520},{"t":"2021-05-08T18:20","v":7.540},{"t":"2021-05-08T18:40","v":7.560},{"t":"2021-05-08T19:00","v":7.530},{"t":"2021-05-08T19:20","v":7.548},{"t":"2021-05-08T19:40","v":7.510},{"t":"2021-05-08T20:00","v":7.540},{"t":"2021-05-08T20:20","v":7.525},{"t":"2021-05-08T20:40","v":7.555},{"t":"2021-05-08T21:00","v":7.506},{"t":"2021-05-08T21:20","v":7.537},{"t":"2021-05-08T21:30","v":7.607},{"t":"2021-05-08T21:50","v":7.620},{"t":"2021-05-08T22:10","v":7.645},{"t":"2021-05-08T22:30","v":7.620},{"t":"2021-05-08T22:50","v":7.600},{"t":"2021-05-08T23:10","v":7.585},{"t":"2021-05-08T23:30","v":7.600},{"t":"2021-05-08T23:50","v":7.575},
{"t":"2021-05-08T00:10","v":7.660},{"t":"2021-05-08T00:30","v":7.740},{"t":"2021-05-08T00:50","v":7.630},{"t":"2021-05-08T01:10","v":7.690},{"t":"2021-05-08T01:30","v":7.600},{"t":"2021-05-08T01:50","v":7.710},{"t":"2021-05-08T02:10","v":7.660},{"t":"2021-05-08T02:30","v":7.640},{"t":"2021-05-08T03:10","v":7.700},{"t":"2021-05-08T03:30","v":7.620},{"t":"2021-05-08T03:50","v":7.710},{"t":"2021-05-08T04:10","v":7.690},{"t":"2021-05-08T04:30","v":7.740},{"t":"2021-05-08T04:50","v":7.670},{"t":"2021-05-08T05:10","v":7.720},{"t":"2021-05-08T05:30","v":7.760},{"t":"2021-05-08T05:50","v":7.700},{"t":"2021-05-08T06:10","v":7.740},{"t":"2021-05-08T06:30","v":7.690},{"t":"2021-05-08T06:50","v":7.745},{"t":"2021-05-08T07:10","v":7.710},{"t":"2021-05-08T07:30","v":7.750},{"t":"2021-05-08T07:50","v":7.690},{"t":"2021-05-08T08:00","v":7.720},{"t":"2021-05-08T08:20","v":7.700},{"t":"2021-05-08T08:40","v":7.750},{"t":"2021-05-08T09:00","v":7.690},{"t":"2021-05-08T09:20","v":7.730},{"t":"2021-05-08T09:40","v":7.765},{"t":"2021-05-08T10:00","v":7.700},{"t":"2021-05-08T10:20","v":7.745},{"t":"2021-05-08T11:00","v":7.740},{"t":"2021-05-08T11:20","v":7.690},{"t":"2021-05-08T11:40","v":7.770},{"t":"2021-05-08T12:10","v":7.710},{"t":"2021-05-08T12:30","v":7.770},{"t":"2021-05-08T12:50","v":7.730},{"t":"2021-05-08T13:10","v":7.700},{"t":"2021-05-08T13:30","v":7.745},{"t":"2021-05-08T13:50","v":7.710},{"t":"2021-05-08T14:10","v":7.760},{"t":"2021-05-08T14:30","v":7.720},{"t":"2021-05-08T16:30","v":7.560},{"t":"2021-05-08T16:50","v":7.515},{"t":"2021-05-08T17:10","v":7.540},{"t":"2021-05-08T17:30","v":7.520},{"t":"2021-05-08T17:50","v":7.535},{"t":"2021-05-08T18:10","v":7.555},{"t":"2021-05-08T18:30","v":7.510},{"t":"2021-05-08T18:50","v":7.545},{"t":"2021-05-08T19:10","v":7.520},{"t":"2021-05-08T19:30","v":7.560},{"t":"2021-05-08T19:50","v":7.535},{"t":"2021-05-08T20:10","v":7.515},{"t":"2021-05-08T20:30","v":7.545},{"t":"2021-05-08T20:50","v":7.530},{"t":"2021-05-08T21:10","v":7.520},{"t":"2021-05-08T22:00","v":7.635},{"t":"2021-05-08T22:40","v":7.610},{"t":"2021-05-08T23:00","v":7.600},{"t":"2021-05-08T23:40","v":7.590},
{"t":"2021-05-09T00:10","v":7.565},{"t":"2021-05-09T00:30","v":7.545},{"t":"2021-05-09T00:50","v":7.529},{"t":"2021-05-09T01:10","v":7.514},{"t":"2021-05-09T01:30","v":7.530},{"t":"2021-05-09T01:50","v":7.520},{"t":"2021-05-09T02:10","v":7.545},{"t":"2021-05-09T02:30","v":7.560},{"t":"2021-05-09T02:50","v":7.575},{"t":"2021-05-09T03:10","v":7.565},{"t":"2021-05-09T03:30","v":7.590},{"t":"2021-05-09T03:50","v":7.599},{"t":"2021-05-09T04:10","v":7.610},{"t":"2021-05-09T04:30","v":7.600},{"t":"2021-05-09T04:50","v":7.620},{"t":"2021-05-09T05:10","v":7.630},{"t":"2021-05-09T05:30","v":7.615},{"t":"2021-05-09T05:50","v":7.635},{"t":"2021-05-09T06:10","v":7.620},{"t":"2021-05-09T06:30","v":7.640},{"t":"2021-05-09T06:50","v":7.610},{"t":"2021-05-09T07:10","v":7.637},{"t":"2021-05-09T07:30","v":7.625},{"t":"2021-05-09T07:50","v":7.614},{"t":"2021-05-09T08:10","v":7.630},{"t":"2021-05-09T08:30","v":7.620},{"t":"2021-05-09T08:50","v":7.640},{"t":"2021-05-09T09:10","v":7.615},{"t":"2021-05-09T09:30","v":7.635},{"t":"2021-05-09T09:50","v":7.650},{"t":"2021-05-09T10:10","v":7.684},{"t":"2021-05-09T10:30","v":7.640},{"t":"2021-05-09T10:50","v":7.670},{"t":"2021-05-09T11:10","v":7.620},{"t":"2021-05-09T11:30","v":7.660},{"t":"2021-05-09T11:50","v":7.640},{"t":"2021-05-09T12:10","v":7.690},{"t":"2021-05-09T12:30","v":7.600},{"t":"2021-05-09T12:40","v":7.556},{"t":"2021-05-09T12:50","v":7.650},{"t":"2021-05-09T13:10","v":7.680},{"t":"2021-05-09T13:30","v":7.630},{"t":"2021-05-09T13:50","v":7.665},{"t":"2021-05-09T14:10","v":7.640},{"t":"2021-05-09T14:30","v":7.690},{"t":"2021-05-09T14:50","v":7.707},{"t":"2021-05-09T15:10","v":7.660},{"t":"2021-05-09T15:30","v":7.690},{"t":"2021-05-09T15:50","v":7.640},{"t":"2021-05-09T16:10","v":7.675},{"t":"2021-05-09T16:30","v":7.620},{"t":"2021-05-09T16:50","v":7.684},{"t":"2021-05-09T17:10","v":7.650},{"t":"2021-05-09T17:30","v":7.630},{"t":"2021-05-09T17:50","v":7.670},{"t":"2021-05-09T18:10","v":7.645},{"t":"2021-05-09T18:30","v":7.610},{"t":"2021-05-09T18:50","v":7.660},{"t":"2021-05-09T19:10","v":7.690},{"t":"2021-05-09T19:30","v":7.635},{"t":"2021-05-09T19:50","v":7.600},{"t":"2021-05-09T20:10","v":7.650},{"t":"2021-05-09T20:30","v":7.675},{"t":"2021-05-09T20:50","v":7.630},{"t":"2021-05-09T21:10","v":7.665},{"t":"2021-05-09T21:30","v":7.610},{"t":"2021-05-09T21:50","v":7.680},{"t":"2021-05-09T22:10","v":7.640},{"t":"2021-05-09T22:30","v":7.690},{"t":"2021-05-09T22:50","v":7.650},{"t":"2021-05-09T23:10","v":7.620},{"t":"2021-05-09T23:30","v":7.661},{"t":"2021-05-09T23:50","v":7.640},
{"t":"2021-05-09T00:00","v":7.555},{"t":"2021-05-09T00:40","v":7.535},{"t":"2021-05-09T01:00","v":7.520},{"t":"2021-05-09T01:40","v":7.535},{"t":"2021-05-09T02:00","v":7.530},{"t":"2021-05-09T02:40","v":7.570},{"t":"2021-05-09T03:00","v":7.560},{"t":"2021-05-09T03:40","v":7.585},{"t":"2021-05-09T04:00","v":7.605},{"t":"2021-05-09T04:40","v":7.615},{"t":"2021-05-09T05:00","v":7.610},{"t":"2021-05-09T05:40","v":7.628},{"t":"2021-05-09T06:00","v":7.630},{"t":"2021-05-09T06:40","v":7.625},{"t":"2021-05-09T07:00","v":7.618},{"t":"2021-05-09T07:40","v":7.632},{"t":"2021-05-09T08:00","v":7.612},{"t":"2021-05-09T08:40","v":7.628},{"t":"2021-05-09T09:00","v":7.625},{"t":"2021-05-09T09:40","v":7.640},{"t":"2021-05-09T10:00","v":7.660},{"t":"2021-05-09T10:40","v":7.655},{"t":"2021-05-09T11:00","v":7.640},{"t":"2021-05-09T11:40","v":7.675},{"t":"2021-05-09T12:00","v":7.650},{"t":"2021-05-09T12:20","v":7.665},{"t":"2021-05-09T13:00","v":7.640},{"t":"2021-05-09T13:40","v":7.690},{"t":"2021-05-09T14:00","v":7.655},{"t":"2021-05-09T14:40","v":7.670},{"t":"2021-05-09T15:00","v":7.685},{"t":"2021-05-09T15:40","v":7.660},{"t":"2021-05-09T16:00","v":7.640},{"t":"2021-05-09T16:40","v":7.650},{"t":"2021-05-09T17:00","v":7.690},{"t":"2021-05-09T17:40","v":7.655},{"t":"2021-05-09T18:00","v":7.625},{"t":"2021-05-09T18:40","v":7.640},{"t":"2021-05-09T19:00","v":7.670},{"t":"2021-05-09T19:40","v":7.660},{"t":"2021-05-09T20:00","v":7.620},{"t":"2021-05-09T20:40","v":7.650},{"t":"2021-05-09T21:00","v":7.640},{"t":"2021-05-09T21:40","v":7.650},{"t":"2021-05-09T22:00","v":7.665},{"t":"2021-05-09T22:40","v":7.630},{"t":"2021-05-09T23:00","v":7.675},{"t":"2021-05-09T23:40","v":7.650},
{"t":"2021-05-10T00:10","v":7.680},{"t":"2021-05-10T00:30","v":7.600},{"t":"2021-05-10T00:50","v":7.650},{"t":"2021-05-10T01:10","v":7.583},{"t":"2021-05-10T01:30","v":7.630},{"t":"2021-05-10T01:50","v":7.670},{"t":"2021-05-10T02:10","v":7.620},{"t":"2021-05-10T02:30","v":7.660},{"t":"2021-05-10T02:50","v":7.600},{"t":"2021-05-10T03:10","v":7.707},{"t":"2021-05-10T03:30","v":7.640},{"t":"2021-05-10T00:00","v":7.660},{"t":"2021-05-10T00:40","v":7.630},{"t":"2021-05-10T01:00","v":7.610},{"t":"2021-05-10T01:40","v":7.650},{"t":"2021-05-10T02:00","v":7.640},{"t":"2021-05-10T02:40","v":7.630},{"t":"2021-05-10T03:00","v":7.680},{"t":"2021-05-10T03:20","v":7.620}
],
"sal":[
{"t":"2021-05-03T13:30","v":35.11},{"t":"2021-05-03T14:00","v":35.14},{"t":"2021-05-03T14:30","v":35.12},{"t":"2021-05-03T15:00","v":35.16},{"t":"2021-05-03T15:30","v":35.13},{"t":"2021-05-03T16:00","v":35.18},{"t":"2021-05-03T16:30","v":35.15},{"t":"2021-05-03T17:00","v":35.19},{"t":"2021-05-03T17:30","v":35.16},{"t":"2021-05-03T18:00","v":35.21},{"t":"2021-05-03T18:30","v":35.23},{"t":"2021-05-03T19:00","v":35.20},{"t":"2021-05-03T19:30","v":35.22},{"t":"2021-05-03T20:00","v":35.17},{"t":"2021-05-03T20:15","v":35.13},{"t":"2021-05-03T20:30","v":35.10},{"t":"2021-05-03T20:45","v":35.12},{"t":"2021-05-03T21:00","v":35.17},{"t":"2021-05-03T21:20","v":35.23},{"t":"2021-05-03T21:40","v":35.19},{"t":"2021-05-03T22:00","v":35.16},{"t":"2021-05-03T22:30","v":35.20},{"t":"2021-05-03T23:00","v":35.17},{"t":"2021-05-03T23:30","v":35.21},{"t":"2021-05-03T13:45","v":35.13},{"t":"2021-05-03T14:15","v":35.11},{"t":"2021-05-03T14:45","v":35.15},{"t":"2021-05-03T15:15","v":35.12},{"t":"2021-05-03T15:45","v":35.16},{"t":"2021-05-03T16:15","v":35.14},{"t":"2021-05-03T16:45","v":35.17},{"t":"2021-05-03T17:15","v":35.14},{"t":"2021-05-03T17:45","v":35.19},{"t":"2021-05-03T18:15","v":35.20},{"t":"2021-05-03T18:45","v":35.21},{"t":"2021-05-03T19:15","v":35.18},{"t":"2021-05-03T19:45","v":35.19},{"t":"2021-05-03T21:10","v":35.20},{"t":"2021-05-03T21:30","v":35.21},{"t":"2021-05-03T21:50","v":35.14},{"t":"2021-05-03T22:15","v":35.18},{"t":"2021-05-03T22:45","v":35.15},{"t":"2021-05-03T23:15","v":35.19},{"t":"2021-05-03T23:45","v":35.16},
{"t":"2021-05-04T00:00","v":35.18},{"t":"2021-05-04T00:30","v":35.22},{"t":"2021-05-04T00:50","v":35.25},{"t":"2021-05-04T01:10","v":35.21},{"t":"2021-05-04T01:30","v":35.17},{"t":"2021-05-04T02:00","v":35.14},{"t":"2021-05-04T02:30","v":35.16},{"t":"2021-05-04T03:00","v":35.14},{"t":"2021-05-04T03:30","v":35.12},{"t":"2021-05-04T04:00","v":35.15},{"t":"2021-05-04T05:00","v":35.13},{"t":"2021-05-04T06:00","v":35.15},{"t":"2021-05-04T07:00","v":35.12},{"t":"2021-05-04T08:00","v":35.14},{"t":"2021-05-04T09:00","v":35.13},{"t":"2021-05-04T10:00","v":35.15},{"t":"2021-05-04T11:00","v":35.12},{"t":"2021-05-04T12:00","v":35.14},{"t":"2021-05-04T13:00","v":35.13},{"t":"2021-05-04T14:00","v":35.15},{"t":"2021-05-04T15:00","v":35.13},{"t":"2021-05-04T16:00","v":35.14},{"t":"2021-05-04T17:00","v":35.12},{"t":"2021-05-04T18:00","v":35.15},{"t":"2021-05-04T19:00","v":35.13},{"t":"2021-05-04T20:00","v":35.14},{"t":"2021-05-04T21:00","v":35.12},{"t":"2021-05-04T22:00","v":35.14},{"t":"2021-05-04T23:00","v":35.13},
{"t":"2021-05-04T00:15","v":35.20},{"t":"2021-05-04T00:40","v":35.19},{"t":"2021-05-04T01:00","v":35.23},{"t":"2021-05-04T01:20","v":35.18},{"t":"2021-05-04T01:45","v":35.15},{"t":"2021-05-04T02:15","v":35.17},{"t":"2021-05-04T02:45","v":35.13},{"t":"2021-05-04T03:15","v":35.15},{"t":"2021-05-04T03:45","v":35.14},{"t":"2021-05-04T04:30","v":35.11},{"t":"2021-05-04T05:30","v":35.16},{"t":"2021-05-04T06:30","v":35.12},{"t":"2021-05-04T07:30","v":35.15},{"t":"2021-05-04T08:30","v":35.11},{"t":"2021-05-04T09:30","v":35.16},{"t":"2021-05-04T10:30","v":35.12},{"t":"2021-05-04T11:30","v":35.15},{"t":"2021-05-04T12:30","v":35.11},{"t":"2021-05-04T13:30","v":35.16},{"t":"2021-05-04T14:30","v":35.12},{"t":"2021-05-04T15:30","v":35.15},{"t":"2021-05-04T16:30","v":35.11},{"t":"2021-05-04T17:30","v":35.15},{"t":"2021-05-04T18:30","v":35.12},{"t":"2021-05-04T19:30","v":35.16},{"t":"2021-05-04T20:30","v":35.11},{"t":"2021-05-04T21:30","v":35.15},{"t":"2021-05-04T22:30","v":35.12},{"t":"2021-05-04T23:30","v":35.15},
{"t":"2021-05-05T00:00","v":35.14},{"t":"2021-05-05T01:00","v":35.12},{"t":"2021-05-05T02:00","v":35.13},{"t":"2021-05-05T03:00","v":35.11},{"t":"2021-05-05T04:00","v":35.14},{"t":"2021-05-05T05:00","v":35.12},{"t":"2021-05-05T06:00","v":35.10},{"t":"2021-05-05T07:00","v":35.12},{"t":"2021-05-05T08:00","v":35.11},{"t":"2021-05-05T09:00","v":35.13},{"t":"2021-05-05T10:00","v":35.11},{"t":"2021-05-05T11:00","v":35.12},{"t":"2021-05-05T12:00","v":35.10},{"t":"2021-05-05T13:00","v":35.13},{"t":"2021-05-05T14:00","v":35.11},{"t":"2021-05-05T15:00","v":35.12},{"t":"2021-05-05T16:00","v":35.10},{"t":"2021-05-05T17:00","v":35.12},{"t":"2021-05-05T18:00","v":35.11},{"t":"2021-05-05T19:00","v":35.13},{"t":"2021-05-05T20:00","v":35.10},{"t":"2021-05-05T21:00","v":35.12},{"t":"2021-05-05T22:00","v":35.11},{"t":"2021-05-05T23:00","v":35.12},
{"t":"2021-05-05T00:30","v":35.10},{"t":"2021-05-05T01:30","v":35.14},{"t":"2021-05-05T02:30","v":35.10},{"t":"2021-05-05T03:30","v":35.13},{"t":"2021-05-05T04:30","v":35.10},{"t":"2021-05-05T05:30","v":35.14},{"t":"2021-05-05T06:30","v":35.12},{"t":"2021-05-05T07:30","v":35.09},{"t":"2021-05-05T08:30","v":35.13},{"t":"2021-05-05T09:30","v":35.10},{"t":"2021-05-05T10:30","v":35.13},{"t":"2021-05-05T11:30","v":35.09},{"t":"2021-05-05T12:30","v":35.12},{"t":"2021-05-05T13:30","v":35.10},{"t":"2021-05-05T14:30","v":35.13},{"t":"2021-05-05T15:30","v":35.09},{"t":"2021-05-05T16:30","v":35.12},{"t":"2021-05-05T17:30","v":35.10},{"t":"2021-05-05T18:30","v":35.13},{"t":"2021-05-05T19:30","v":35.09},{"t":"2021-05-05T20:30","v":35.12},{"t":"2021-05-05T21:30","v":35.10},{"t":"2021-05-05T22:30","v":35.13},{"t":"2021-05-05T23:30","v":35.10},
{"t":"2021-05-06T00:00","v":35.10},{"t":"2021-05-06T01:00","v":35.12},{"t":"2021-05-06T02:00","v":35.11},{"t":"2021-05-06T03:00","v":35.09},{"t":"2021-05-06T04:00","v":35.12},{"t":"2021-05-06T05:00","v":35.10},{"t":"2021-05-06T06:00","v":35.11},{"t":"2021-05-06T07:00","v":35.12},{"t":"2021-05-06T08:00","v":35.10},{"t":"2021-05-06T09:00","v":35.11},{"t":"2021-05-06T10:00","v":35.13},{"t":"2021-05-06T11:00","v":35.10},{"t":"2021-05-06T12:00","v":35.12},{"t":"2021-05-06T13:00","v":35.11},{"t":"2021-05-06T14:00","v":35.13},{"t":"2021-05-06T15:00","v":35.10},{"t":"2021-05-06T16:00","v":35.12},{"t":"2021-05-06T17:00","v":35.11},{"t":"2021-05-06T18:00","v":35.13},{"t":"2021-05-06T19:00","v":35.11},{"t":"2021-05-06T20:00","v":35.12},{"t":"2021-05-06T21:00","v":35.14},{"t":"2021-05-06T22:00","v":35.11},{"t":"2021-05-06T23:00","v":35.13},
{"t":"2021-05-06T00:30","v":35.12},{"t":"2021-05-06T01:30","v":35.09},{"t":"2021-05-06T02:30","v":35.13},{"t":"2021-05-06T03:30","v":35.11},{"t":"2021-05-06T04:30","v":35.09},{"t":"2021-05-06T05:30","v":35.12},{"t":"2021-05-06T06:30","v":35.10},{"t":"2021-05-06T07:30","v":35.13},{"t":"2021-05-06T08:30","v":35.12},{"t":"2021-05-06T09:30","v":35.09},{"t":"2021-05-06T10:30","v":35.11},{"t":"2021-05-06T11:30","v":35.13},{"t":"2021-05-06T12:30","v":35.10},{"t":"2021-05-06T13:30","v":35.12},{"t":"2021-05-06T14:30","v":35.11},{"t":"2021-05-06T15:30","v":35.13},{"t":"2021-05-06T16:30","v":35.10},{"t":"2021-05-06T17:30","v":35.12},{"t":"2021-05-06T18:30","v":35.10},{"t":"2021-05-06T19:30","v":35.13},{"t":"2021-05-06T20:30","v":35.11},{"t":"2021-05-06T21:30","v":35.12},{"t":"2021-05-06T22:30","v":35.14},{"t":"2021-05-06T23:30","v":35.11},
{"t":"2021-05-07T00:00","v":35.12},{"t":"2021-05-07T01:00","v":35.14},{"t":"2021-05-07T02:00","v":35.11},{"t":"2021-05-07T03:00","v":35.13},{"t":"2021-05-07T04:00","v":35.15},{"t":"2021-05-07T05:00","v":35.12},{"t":"2021-05-07T06:00","v":35.14},{"t":"2021-05-07T07:00","v":35.12},{"t":"2021-05-07T08:00","v":35.15},{"t":"2021-05-07T09:00","v":35.13},{"t":"2021-05-07T10:00","v":35.11},{"t":"2021-05-07T11:00","v":35.14},{"t":"2021-05-07T12:00","v":35.12},{"t":"2021-05-07T13:00","v":35.15},{"t":"2021-05-07T14:00","v":35.13},{"t":"2021-05-07T15:00","v":35.11},{"t":"2021-05-07T16:00","v":35.14},{"t":"2021-05-07T17:00","v":35.12},{"t":"2021-05-07T18:00","v":35.15},{"t":"2021-05-07T19:00","v":35.13},{"t":"2021-05-07T20:00","v":35.11},{"t":"2021-05-07T21:00","v":35.14},{"t":"2021-05-07T22:00","v":35.12},{"t":"2021-05-07T23:00","v":35.15},{"t":"2021-05-07T23:30","v":35.11},
{"t":"2021-05-07T00:30","v":35.13},{"t":"2021-05-07T01:30","v":35.12},{"t":"2021-05-07T02:30","v":35.14},{"t":"2021-05-07T03:30","v":35.11},{"t":"2021-05-07T04:30","v":35.13},{"t":"2021-05-07T05:30","v":35.15},{"t":"2021-05-07T06:30","v":35.12},{"t":"2021-05-07T07:30","v":35.14},{"t":"2021-05-07T08:30","v":35.12},{"t":"2021-05-07T09:30","v":35.15},{"t":"2021-05-07T10:30","v":35.13},{"t":"2021-05-07T11:30","v":35.12},{"t":"2021-05-07T12:30","v":35.14},{"t":"2021-05-07T13:30","v":35.12},{"t":"2021-05-07T14:30","v":35.15},{"t":"2021-05-07T15:30","v":35.13},{"t":"2021-05-07T16:30","v":35.12},{"t":"2021-05-07T17:30","v":35.14},{"t":"2021-05-07T18:30","v":35.12},{"t":"2021-05-07T19:30","v":35.15},{"t":"2021-05-07T20:30","v":35.13},{"t":"2021-05-07T21:30","v":35.12},{"t":"2021-05-07T22:30","v":35.14},{"t":"2021-05-07T23:15","v":35.13},{"t":"2021-05-07T23:45","v":35.16},
{"t":"2021-05-08T00:00","v":35.13},{"t":"2021-05-08T00:30","v":35.17},{"t":"2021-05-08T01:00","v":35.21},{"t":"2021-05-08T01:30","v":35.18},{"t":"2021-05-08T02:00","v":35.15},{"t":"2021-05-08T02:30","v":35.17},{"t":"2021-05-08T03:00","v":35.16},{"t":"2021-05-08T03:30","v":35.18},{"t":"2021-05-08T04:00","v":35.16},{"t":"2021-05-08T04:30","v":35.19},{"t":"2021-05-08T05:00","v":35.17},{"t":"2021-05-08T05:30","v":35.21},{"t":"2021-05-08T06:00","v":35.22},{"t":"2021-05-08T07:00","v":35.24},{"t":"2021-05-08T08:00","v":35.22},{"t":"2021-05-08T09:00","v":35.23},{"t":"2021-05-08T10:00","v":35.21},{"t":"2021-05-08T11:00","v":35.24},{"t":"2021-05-08T12:00","v":35.22},{"t":"2021-05-08T13:00","v":35.23},{"t":"2021-05-08T14:00","v":35.20},{"t":"2021-05-08T15:00","v":35.21},{"t":"2021-05-08T16:00","v":35.19},{"t":"2021-05-08T17:00","v":35.16},{"t":"2021-05-08T17:36","v":35.08},{"t":"2021-05-08T17:40","v":35.15},{"t":"2021-05-08T18:00","v":35.17},{"t":"2021-05-08T19:00","v":35.15},{"t":"2021-05-08T20:00","v":35.18},{"t":"2021-05-08T21:00","v":35.20},{"t":"2021-05-08T22:00","v":35.22},{"t":"2021-05-08T23:00","v":35.20},
{"t":"2021-05-08T00:15","v":35.15},{"t":"2021-05-08T00:45","v":35.19},{"t":"2021-05-08T01:15","v":35.22},{"t":"2021-05-08T01:45","v":35.16},{"t":"2021-05-08T02:15","v":35.19},{"t":"2021-05-08T02:45","v":35.15},{"t":"2021-05-08T03:15","v":35.19},{"t":"2021-05-08T03:45","v":35.17},{"t":"2021-05-08T04:15","v":35.20},{"t":"2021-05-08T04:45","v":35.16},{"t":"2021-05-08T05:15","v":35.19},{"t":"2021-05-08T05:45","v":35.19},{"t":"2021-05-08T06:30","v":35.24},{"t":"2021-05-08T07:30","v":35.22},{"t":"2021-05-08T08:30","v":35.24},{"t":"2021-05-08T09:30","v":35.21},{"t":"2021-05-08T10:30","v":35.23},{"t":"2021-05-08T11:30","v":35.22},{"t":"2021-05-08T12:30","v":35.24},{"t":"2021-05-08T13:30","v":35.21},{"t":"2021-05-08T14:30","v":35.22},{"t":"2021-05-08T15:30","v":35.19},{"t":"2021-05-08T16:30","v":35.18},{"t":"2021-05-08T17:20","v":35.17},{"t":"2021-05-08T17:50","v":35.16},{"t":"2021-05-08T18:30","v":35.15},{"t":"2021-05-08T19:30","v":35.17},{"t":"2021-05-08T20:30","v":35.19},{"t":"2021-05-08T21:30","v":35.21},{"t":"2021-05-08T22:30","v":35.20},{"t":"2021-05-08T23:30","v":35.22},
{"t":"2021-05-09T00:00","v":35.21},{"t":"2021-05-09T01:00","v":35.19},{"t":"2021-05-09T02:00","v":35.17},{"t":"2021-05-09T03:00","v":35.15},{"t":"2021-05-09T04:00","v":35.16},{"t":"2021-05-09T05:00","v":35.15},{"t":"2021-05-09T06:00","v":35.17},{"t":"2021-05-09T07:00","v":35.15},{"t":"2021-05-09T08:00","v":35.16},{"t":"2021-05-09T09:00","v":35.15},{"t":"2021-05-09T10:00","v":35.17},{"t":"2021-05-09T11:00","v":35.18},{"t":"2021-05-09T12:00","v":35.16},{"t":"2021-05-09T13:00","v":35.17},{"t":"2021-05-09T14:00","v":35.18},{"t":"2021-05-09T15:00","v":35.16},{"t":"2021-05-09T16:00","v":35.17},{"t":"2021-05-09T17:00","v":35.16},{"t":"2021-05-09T18:00","v":35.18},{"t":"2021-05-09T19:00","v":35.15},{"t":"2021-05-09T20:00","v":35.16},{"t":"2021-05-09T21:00","v":35.14},{"t":"2021-05-09T22:00","v":35.15},{"t":"2021-05-09T23:00","v":35.16},
{"t":"2021-05-09T00:30","v":35.20},{"t":"2021-05-09T01:30","v":35.18},{"t":"2021-05-09T02:30","v":35.16},{"t":"2021-05-09T03:30","v":35.16},{"t":"2021-05-09T04:30","v":35.15},{"t":"2021-05-09T05:30","v":35.16},{"t":"2021-05-09T06:30","v":35.16},{"t":"2021-05-09T07:30","v":35.16},{"t":"2021-05-09T08:30","v":35.15},{"t":"2021-05-09T09:30","v":35.16},{"t":"2021-05-09T10:30","v":35.18},{"t":"2021-05-09T11:30","v":35.17},{"t":"2021-05-09T12:30","v":35.17},{"t":"2021-05-09T13:30","v":35.18},{"t":"2021-05-09T14:30","v":35.17},{"t":"2021-05-09T15:30","v":35.17},{"t":"2021-05-09T16:30","v":35.16},{"t":"2021-05-09T17:30","v":35.17},{"t":"2021-05-09T18:30","v":35.16},{"t":"2021-05-09T19:30","v":35.15},{"t":"2021-05-09T20:30","v":35.15},{"t":"2021-05-09T21:30","v":35.15},{"t":"2021-05-09T22:30","v":35.16},{"t":"2021-05-09T23:30","v":35.15},
{"t":"2021-05-10T00:00","v":35.15},{"t":"2021-05-10T01:00","v":35.17},{"t":"2021-05-10T02:00","v":35.18},{"t":"2021-05-10T03:00","v":35.16},{"t":"2021-05-10T04:00","v":35.17},{"t":"2021-05-10T00:30","v":35.16},{"t":"2021-05-10T01:30","v":35.18},{"t":"2021-05-10T02:30","v":35.17},{"t":"2021-05-10T03:30","v":35.17}
]
}
}
